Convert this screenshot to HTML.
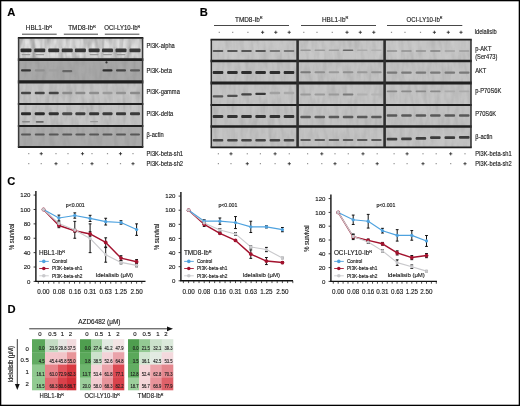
<!DOCTYPE html>
<html><head><meta charset="utf-8"><style>
html,body{margin:0;padding:0;background:#fff;}
body{width:520px;height:406px;overflow:hidden;}
svg{display:block;font-family:"Liberation Sans", sans-serif;will-change:transform;filter:blur(0.28px);}
text{stroke:#1a1a1a;stroke-width:0.14px;}
</style></head><body>
<svg width="520" height="406" viewBox="0 0 520 406">
<defs><filter id="bl" x="-20%" y="-100%" width="140%" height="300%"><feGaussianBlur stdDeviation="0.45"/></filter>
<filter id="bl2" x="-30%" y="-30%" width="160%" height="160%"><feGaussianBlur stdDeviation="1.2"/></filter>
<filter id="nzd" x="0" y="0" width="100%" height="100%" color-interpolation-filters="sRGB"><feTurbulence type="fractalNoise" baseFrequency="0.22 0.06" numOctaves="2" seed="7" result="t"/><feColorMatrix in="t" type="matrix" values="0 0 0 0 0  0 0 0 0 0  0 0 0 0 0  1.1 0 0 0 -0.45" result="a"/><feComposite in="a" in2="SourceGraphic" operator="in"/></filter>
<filter id="nzl" x="0" y="0" width="100%" height="100%" color-interpolation-filters="sRGB"><feTurbulence type="fractalNoise" baseFrequency="0.2 0.05" numOctaves="2" seed="19" result="t"/><feColorMatrix in="t" type="matrix" values="0 0 0 0 1  0 0 0 0 1  0 0 0 0 1  1.1 0 0 0 -0.45" result="a"/><feComposite in="a" in2="SourceGraphic" operator="in"/></filter>
</defs>
<rect x="0.6" y="0.6" width="518.8" height="404.8" fill="#fff" stroke="#000" stroke-width="1.4" />
<text x="7.3" y="15.6" font-size="11.2" text-anchor="start" font-weight="bold" fill="#000" >A</text>
<text x="199.8" y="15.8" font-size="11.2" text-anchor="start" font-weight="bold" fill="#000" >B</text>
<text x="7.2" y="185.0" font-size="11.2" text-anchor="start" font-weight="bold" fill="#000" >C</text>
<text x="7.6" y="313.3" font-size="11.2" text-anchor="start" font-weight="bold" fill="#000" >D</text>
<text x="25.8" y="30.3" font-size="6.4" fill="#1a1a1a">HBL1-Ib<tspan font-size="3.97" dy="-2.56">R</tspan></text>
<text x="68.2" y="30.3" font-size="6.4" fill="#1a1a1a">TMD8-Ib<tspan font-size="3.97" dy="-2.56">R</tspan></text>
<text x="104.3" y="30.3" font-size="6.4" fill="#1a1a1a" transform="translate(104.3,0) scale(0.94,1) translate(-104.3,0)">OCI-LY10-Ib<tspan font-size="3.97" dy="-2.56">R</tspan></text>
<line x1="22" y1="34.2" x2="56.7" y2="34.2" stroke="#333" stroke-width="0.9" />
<line x1="63.8" y1="34.2" x2="98" y2="34.2" stroke="#333" stroke-width="0.9" />
<line x1="104.8" y1="34.2" x2="139.4" y2="34.2" stroke="#333" stroke-width="0.9" />
<rect x="18.6" y="37.9" width="124.0" height="21.700000000000003" fill="#c3c3c3" stroke="none" stroke-width="0" />
<rect x="21.20" y="39.5" width="9.6" height="17.5" fill="#e2e2e2" opacity="0.8" filter="url(#bl2)"/>
<rect x="34.95" y="39.5" width="9.6" height="17.5" fill="#e2e2e2" opacity="0.8" filter="url(#bl2)"/>
<rect x="48.95" y="39.5" width="9.6" height="17.5" fill="#e2e2e2" opacity="0.8" filter="url(#bl2)"/>
<rect x="62.45" y="39.5" width="9.6" height="17.5" fill="#e2e2e2" opacity="0.8" filter="url(#bl2)"/>
<rect x="75.60" y="39.5" width="9.6" height="17.5" fill="#e2e2e2" opacity="0.8" filter="url(#bl2)"/>
<rect x="89.30" y="39.5" width="9.6" height="17.5" fill="#e2e2e2" opacity="0.8" filter="url(#bl2)"/>
<rect x="102.70" y="39.5" width="9.6" height="17.5" fill="#e2e2e2" opacity="0.8" filter="url(#bl2)"/>
<rect x="116.20" y="39.5" width="9.6" height="17.5" fill="#e2e2e2" opacity="0.8" filter="url(#bl2)"/>
<rect x="130.20" y="39.5" width="9.6" height="17.5" fill="#e2e2e2" opacity="0.8" filter="url(#bl2)"/>
<rect x="18.6" y="37.9" width="124.0" height="21.700000000000003" fill="#000" stroke="none" stroke-width="0" filter="url(#nzd)" opacity="0.45"/>
<rect x="18.6" y="37.9" width="124.0" height="21.700000000000003" fill="#000" stroke="none" stroke-width="0" filter="url(#nzl)" opacity="0.5"/>
<rect x="20.50" y="48.45" width="11.00" height="3.90" rx="1.00" fill="#2c2c2c" filter="url(#bl)"/>
<rect x="34.25" y="48.45" width="11.00" height="3.90" rx="1.00" fill="#303030" filter="url(#bl)"/>
<rect x="48.25" y="48.45" width="11.00" height="3.90" rx="1.00" fill="#333333" filter="url(#bl)"/>
<rect x="61.75" y="48.45" width="11.00" height="3.90" rx="1.00" fill="#383838" filter="url(#bl)"/>
<rect x="74.90" y="48.45" width="11.00" height="3.90" rx="1.00" fill="#343434" filter="url(#bl)"/>
<rect x="88.60" y="48.45" width="11.00" height="3.90" rx="1.00" fill="#343434" filter="url(#bl)"/>
<rect x="102.00" y="48.45" width="11.00" height="3.90" rx="1.00" fill="#383838" filter="url(#bl)"/>
<rect x="115.50" y="48.45" width="11.00" height="3.90" rx="1.00" fill="#353535" filter="url(#bl)"/>
<rect x="129.50" y="48.45" width="11.00" height="3.90" rx="1.00" fill="#3a3a3a" filter="url(#bl)"/>
<rect x="18.6" y="59.6" width="124.0" height="22.300000000000004" fill="#a6a6a6" stroke="none" stroke-width="0" />
<rect x="18.6" y="59.6" width="124.0" height="22.300000000000004" fill="#000" stroke="none" stroke-width="0" filter="url(#nzd)" opacity="0.12"/>
<rect x="18.6" y="59.6" width="124.0" height="22.300000000000004" fill="#000" stroke="none" stroke-width="0" filter="url(#nzl)" opacity="0.12"/>
<rect x="21.00" y="69.20" width="10.00" height="2.20" rx="1.00" fill="#363636" filter="url(#bl)"/>
<rect x="34.75" y="69.20" width="10.00" height="2.20" rx="1.00" fill="#8e8e8e" filter="url(#bl)"/>
<rect x="48.75" y="69.20" width="10.00" height="2.20" rx="1.00" fill="#a0a0a0" filter="url(#bl)"/>
<rect x="62.25" y="70.00" width="10.00" height="2.20" rx="1.00" fill="#666666" filter="url(#bl)"/>
<rect x="102.50" y="69.20" width="10.00" height="2.20" rx="1.00" fill="#2e2e2e" filter="url(#bl)"/>
<rect x="116.00" y="69.20" width="10.00" height="2.20" rx="1.00" fill="#444444" filter="url(#bl)"/>
<rect x="130.00" y="69.20" width="10.00" height="2.20" rx="1.00" fill="#5a5a5a" filter="url(#bl)"/>
<rect x="18.6" y="81.9" width="124.0" height="22.0" fill="#c2c2c2" stroke="none" stroke-width="0" />
<rect x="18.6" y="81.9" width="124.0" height="22.0" fill="#000" stroke="none" stroke-width="0" filter="url(#nzd)" opacity="0.2"/>
<rect x="18.6" y="81.9" width="124.0" height="22.0" fill="#000" stroke="none" stroke-width="0" filter="url(#nzl)" opacity="0.2"/>
<rect x="21.00" y="91.80" width="10.00" height="2.40" rx="1.00" fill="#454545" filter="url(#bl)"/>
<rect x="34.75" y="91.80" width="10.00" height="2.40" rx="1.00" fill="#454545" filter="url(#bl)"/>
<rect x="48.75" y="91.80" width="10.00" height="2.40" rx="1.00" fill="#444444" filter="url(#bl)"/>
<rect x="62.25" y="91.80" width="10.00" height="2.40" rx="1.00" fill="#8a8a8a" filter="url(#bl)"/>
<rect x="75.40" y="91.80" width="10.00" height="2.40" rx="1.00" fill="#8a8a8a" filter="url(#bl)"/>
<rect x="89.10" y="91.80" width="10.00" height="2.40" rx="1.00" fill="#8e8e8e" filter="url(#bl)"/>
<rect x="102.50" y="91.80" width="10.00" height="2.40" rx="1.00" fill="#9a9a9a" filter="url(#bl)"/>
<rect x="116.00" y="91.80" width="10.00" height="2.40" rx="1.00" fill="#929292" filter="url(#bl)"/>
<rect x="130.00" y="91.80" width="10.00" height="2.40" rx="1.00" fill="#8a8a8a" filter="url(#bl)"/>
<rect x="18.6" y="103.9" width="124.0" height="22.099999999999994" fill="#c3c3c3" stroke="none" stroke-width="0" />
<rect x="18.6" y="103.9" width="124.0" height="22.099999999999994" fill="#000" stroke="none" stroke-width="0" filter="url(#nzd)" opacity="0.2"/>
<rect x="18.6" y="103.9" width="124.0" height="22.099999999999994" fill="#000" stroke="none" stroke-width="0" filter="url(#nzl)" opacity="0.25"/>
<rect x="21.00" y="112.30" width="10.00" height="3.00" rx="1.00" fill="#2c2c2c" filter="url(#bl)"/>
<rect x="34.75" y="112.30" width="10.00" height="3.00" rx="1.00" fill="#2a2a2a" filter="url(#bl)"/>
<rect x="48.75" y="112.30" width="10.00" height="3.00" rx="1.00" fill="#303030" filter="url(#bl)"/>
<rect x="62.25" y="112.30" width="10.00" height="3.00" rx="1.00" fill="#4a4a4a" filter="url(#bl)"/>
<rect x="75.40" y="112.30" width="10.00" height="3.00" rx="1.00" fill="#3c3c3c" filter="url(#bl)"/>
<rect x="89.10" y="112.30" width="10.00" height="3.00" rx="1.00" fill="#363636" filter="url(#bl)"/>
<rect x="102.50" y="112.30" width="10.00" height="3.00" rx="1.00" fill="#3a3a3a" filter="url(#bl)"/>
<rect x="116.00" y="112.30" width="10.00" height="3.00" rx="1.00" fill="#383838" filter="url(#bl)"/>
<rect x="130.00" y="112.30" width="10.00" height="3.00" rx="1.00" fill="#3a3a3a" filter="url(#bl)"/>
<rect x="18.6" y="126.0" width="124.0" height="21.0" fill="#a9a9a9" stroke="none" stroke-width="0" />
<rect x="18.6" y="126.0" width="124.0" height="21.0" fill="#000" stroke="none" stroke-width="0" filter="url(#nzd)" opacity="0.12"/>
<rect x="18.6" y="126.0" width="124.0" height="21.0" fill="#000" stroke="none" stroke-width="0" filter="url(#nzl)" opacity="0.12"/>
<rect x="21.00" y="133.60" width="10.00" height="2.00" rx="1.00" fill="#585858" filter="url(#bl)"/>
<rect x="34.75" y="133.60" width="10.00" height="2.00" rx="1.00" fill="#585858" filter="url(#bl)"/>
<rect x="48.75" y="133.60" width="10.00" height="2.00" rx="1.00" fill="#585858" filter="url(#bl)"/>
<rect x="62.25" y="133.60" width="10.00" height="2.00" rx="1.00" fill="#585858" filter="url(#bl)"/>
<rect x="75.40" y="133.60" width="10.00" height="2.00" rx="1.00" fill="#585858" filter="url(#bl)"/>
<rect x="89.10" y="133.60" width="10.00" height="2.00" rx="1.00" fill="#585858" filter="url(#bl)"/>
<rect x="102.50" y="133.60" width="10.00" height="2.00" rx="1.00" fill="#585858" filter="url(#bl)"/>
<rect x="116.00" y="133.60" width="10.00" height="2.00" rx="1.00" fill="#585858" filter="url(#bl)"/>
<rect x="130.00" y="133.60" width="10.00" height="2.00" rx="1.00" fill="#585858" filter="url(#bl)"/>
<rect x="21.50" y="53.90" width="9.00" height="1.40" rx="0.70" fill="#9a9a9a" filter="url(#bl)"/>
<rect x="35.25" y="53.90" width="9.00" height="1.40" rx="0.70" fill="#9a9a9a" filter="url(#bl)"/>
<rect x="89.60" y="53.90" width="9.00" height="1.40" rx="0.70" fill="#9a9a9a" filter="url(#bl)"/>
<rect x="103.00" y="53.90" width="9.00" height="1.40" rx="0.70" fill="#9a9a9a" filter="url(#bl)"/>
<rect x="116.50" y="53.90" width="9.00" height="1.40" rx="0.70" fill="#9a9a9a" filter="url(#bl)"/>
<rect x="22.00" y="121.00" width="8.00" height="1.40" rx="0.70" fill="#8a8a8a" filter="url(#bl)"/>
<rect x="35.75" y="121.10" width="8.00" height="1.60" rx="0.80" fill="#6a6a6a" filter="url(#bl)"/>
<rect x="90.10" y="121.10" width="8.00" height="1.20" rx="0.60" fill="#9a9a9a" filter="url(#bl)"/>
<circle cx="106.5" cy="62.4" r="1.1" fill="#333" filter="url(#bl)"/>
<line x1="17.85" y1="37.9" x2="143.35" y2="37.9" stroke="#1f1f1f" stroke-width="1.8" />
<line x1="17.85" y1="59.6" x2="143.35" y2="59.6" stroke="#1f1f1f" stroke-width="2.8" />
<line x1="17.85" y1="81.9" x2="143.35" y2="81.9" stroke="#1f1f1f" stroke-width="3.2" />
<line x1="17.85" y1="103.9" x2="143.35" y2="103.9" stroke="#1f1f1f" stroke-width="2.0" />
<line x1="17.85" y1="126.0" x2="143.35" y2="126.0" stroke="#1f1f1f" stroke-width="2.2" />
<line x1="17.85" y1="147.0" x2="143.35" y2="147.0" stroke="#1f1f1f" stroke-width="1.8" />
<line x1="18.6" y1="37.9" x2="18.6" y2="147.0" stroke="#3a3a3a" stroke-width="1.5" />
<line x1="142.6" y1="37.9" x2="142.6" y2="147.0" stroke="#3a3a3a" stroke-width="1.5" />
<text x="146.5" y="48.3" font-size="6.5" text-anchor="start" font-weight="normal" fill="#1a1a1a"  transform="translate(146.5,0) scale(0.88,1) translate(-146.5,0)">PI3K-alpha</text>
<text x="146.5" y="72.6" font-size="6.5" text-anchor="start" font-weight="normal" fill="#1a1a1a"  transform="translate(146.5,0) scale(0.88,1) translate(-146.5,0)">PI3K-beta</text>
<text x="146.5" y="94.4" font-size="6.5" text-anchor="start" font-weight="normal" fill="#1a1a1a"  transform="translate(146.5,0) scale(0.88,1) translate(-146.5,0)">PI3K-gamma</text>
<text x="146.5" y="116.2" font-size="6.5" text-anchor="start" font-weight="normal" fill="#1a1a1a"  transform="translate(146.5,0) scale(0.88,1) translate(-146.5,0)">PI3K-delta</text>
<text x="146.5" y="137.4" font-size="6.5" text-anchor="start" font-weight="normal" fill="#1a1a1a"  transform="translate(146.5,0) scale(0.88,1) translate(-146.5,0)">&#946;-actin</text>
<text x="146.5" y="155.8" font-size="6.5" text-anchor="start" font-weight="normal" fill="#1a1a1a"  transform="translate(146.5,0) scale(0.88,1) translate(-146.5,0)">PI3K-beta-sh1</text>
<text x="146.5" y="165.8" font-size="6.5" text-anchor="start" font-weight="normal" fill="#1a1a1a"  transform="translate(146.5,0) scale(0.88,1) translate(-146.5,0)">PI3K-beta-sh2</text>
<line x1="28.15" y1="153.7" x2="29.35" y2="153.7" stroke="#444" stroke-width="0.7" />
<line x1="28.15" y1="163.7" x2="29.35" y2="163.7" stroke="#444" stroke-width="0.7" />
<line x1="39.65" y1="153.7" x2="42.85" y2="153.7" stroke="#222" stroke-width="0.8" />
<line x1="41.25" y1="152.1" x2="41.25" y2="155.29999999999998" stroke="#222" stroke-width="0.8" />
<line x1="40.65" y1="163.7" x2="41.85" y2="163.7" stroke="#444" stroke-width="0.7" />
<line x1="55.4" y1="153.7" x2="56.6" y2="153.7" stroke="#444" stroke-width="0.7" />
<line x1="54.4" y1="163.7" x2="57.6" y2="163.7" stroke="#222" stroke-width="0.8" />
<line x1="56" y1="162.1" x2="56" y2="165.29999999999998" stroke="#222" stroke-width="0.8" />
<line x1="67.4" y1="153.7" x2="68.6" y2="153.7" stroke="#444" stroke-width="0.7" />
<line x1="67.4" y1="163.7" x2="68.6" y2="163.7" stroke="#444" stroke-width="0.7" />
<line x1="80.9" y1="153.7" x2="84.1" y2="153.7" stroke="#222" stroke-width="0.8" />
<line x1="82.5" y1="152.1" x2="82.5" y2="155.29999999999998" stroke="#222" stroke-width="0.8" />
<line x1="81.9" y1="163.7" x2="83.1" y2="163.7" stroke="#444" stroke-width="0.7" />
<line x1="91.4" y1="153.7" x2="92.6" y2="153.7" stroke="#444" stroke-width="0.7" />
<line x1="90.4" y1="163.7" x2="93.6" y2="163.7" stroke="#222" stroke-width="0.8" />
<line x1="92" y1="162.1" x2="92" y2="165.29999999999998" stroke="#222" stroke-width="0.8" />
<line x1="106.9" y1="153.7" x2="108.1" y2="153.7" stroke="#444" stroke-width="0.7" />
<line x1="106.9" y1="163.7" x2="108.1" y2="163.7" stroke="#444" stroke-width="0.7" />
<line x1="118.9" y1="153.7" x2="122.1" y2="153.7" stroke="#222" stroke-width="0.8" />
<line x1="120.5" y1="152.1" x2="120.5" y2="155.29999999999998" stroke="#222" stroke-width="0.8" />
<line x1="119.9" y1="163.7" x2="121.1" y2="163.7" stroke="#444" stroke-width="0.7" />
<line x1="132.4" y1="153.7" x2="133.6" y2="153.7" stroke="#444" stroke-width="0.7" />
<line x1="131.4" y1="163.7" x2="134.6" y2="163.7" stroke="#222" stroke-width="0.8" />
<line x1="133" y1="162.1" x2="133" y2="165.29999999999998" stroke="#222" stroke-width="0.8" />
<text x="235" y="21.6" font-size="6.4" fill="#1a1a1a">TMD8-Ib<tspan font-size="3.97" dy="-2.56">R</tspan></text>
<text x="322" y="21.6" font-size="6.4" fill="#1a1a1a">HBL1-Ib<tspan font-size="3.97" dy="-2.56">R</tspan></text>
<text x="406.6" y="21.6" font-size="6.4" fill="#1a1a1a" transform="translate(406.6,0) scale(0.94,1) translate(-406.6,0)">OCI-LY10-Ib<tspan font-size="3.97" dy="-2.56">R</tspan></text>
<line x1="214" y1="25.5" x2="289" y2="25.5" stroke="#333" stroke-width="0.9" />
<line x1="301" y1="25.5" x2="376" y2="25.5" stroke="#333" stroke-width="0.9" />
<line x1="387" y1="25.5" x2="462.3" y2="25.5" stroke="#333" stroke-width="0.9" />
<text x="474.4" y="34.1" font-size="6.5" text-anchor="start" font-weight="normal" fill="#1a1a1a"  transform="translate(474.4,0) scale(0.88,1) translate(-474.4,0)">Idelalisib</text>
<line x1="218.70000000000002" y1="32.3" x2="219.9" y2="32.3" stroke="#444" stroke-width="0.7" />
<line x1="232.1" y1="32.3" x2="233.29999999999998" y2="32.3" stroke="#444" stroke-width="0.7" />
<line x1="247.3" y1="32.3" x2="248.5" y2="32.3" stroke="#444" stroke-width="0.7" />
<line x1="261.0" y1="32.3" x2="264.20000000000005" y2="32.3" stroke="#222" stroke-width="0.8" />
<line x1="262.6" y1="30.699999999999996" x2="262.6" y2="33.9" stroke="#222" stroke-width="0.8" />
<line x1="274.2" y1="32.3" x2="277.40000000000003" y2="32.3" stroke="#222" stroke-width="0.8" />
<line x1="275.8" y1="30.699999999999996" x2="275.8" y2="33.9" stroke="#222" stroke-width="0.8" />
<line x1="287.59999999999997" y1="32.3" x2="290.8" y2="32.3" stroke="#222" stroke-width="0.8" />
<line x1="289.2" y1="30.699999999999996" x2="289.2" y2="33.9" stroke="#222" stroke-width="0.8" />
<line x1="303.2" y1="32.3" x2="304.40000000000003" y2="32.3" stroke="#444" stroke-width="0.7" />
<line x1="316.4" y1="32.3" x2="317.6" y2="32.3" stroke="#444" stroke-width="0.7" />
<line x1="331.7" y1="32.3" x2="332.90000000000003" y2="32.3" stroke="#444" stroke-width="0.7" />
<line x1="345.4" y1="32.3" x2="348.6" y2="32.3" stroke="#222" stroke-width="0.8" />
<line x1="347" y1="30.699999999999996" x2="347" y2="33.9" stroke="#222" stroke-width="0.8" />
<line x1="358.7" y1="32.3" x2="361.90000000000003" y2="32.3" stroke="#222" stroke-width="0.8" />
<line x1="360.3" y1="30.699999999999996" x2="360.3" y2="33.9" stroke="#222" stroke-width="0.8" />
<line x1="372.2" y1="32.3" x2="375.40000000000003" y2="32.3" stroke="#222" stroke-width="0.8" />
<line x1="373.8" y1="30.699999999999996" x2="373.8" y2="33.9" stroke="#222" stroke-width="0.8" />
<line x1="390.9" y1="32.3" x2="392.1" y2="32.3" stroke="#444" stroke-width="0.7" />
<line x1="404.4" y1="32.3" x2="405.6" y2="32.3" stroke="#444" stroke-width="0.7" />
<line x1="419.9" y1="32.3" x2="421.1" y2="32.3" stroke="#444" stroke-width="0.7" />
<line x1="432.79999999999995" y1="32.3" x2="436.0" y2="32.3" stroke="#222" stroke-width="0.8" />
<line x1="434.4" y1="30.699999999999996" x2="434.4" y2="33.9" stroke="#222" stroke-width="0.8" />
<line x1="446.7" y1="32.3" x2="449.90000000000003" y2="32.3" stroke="#222" stroke-width="0.8" />
<line x1="448.3" y1="30.699999999999996" x2="448.3" y2="33.9" stroke="#222" stroke-width="0.8" />
<line x1="459.4" y1="32.3" x2="462.6" y2="32.3" stroke="#222" stroke-width="0.8" />
<line x1="461" y1="30.699999999999996" x2="461" y2="33.9" stroke="#222" stroke-width="0.8" />
<line x1="217.8" y1="153.8" x2="219.0" y2="153.8" stroke="#444" stroke-width="0.7" />
<line x1="217.8" y1="163.7" x2="219.0" y2="163.7" stroke="#444" stroke-width="0.7" />
<line x1="229.4" y1="153.8" x2="232.6" y2="153.8" stroke="#222" stroke-width="0.8" />
<line x1="231" y1="152.20000000000002" x2="231" y2="155.4" stroke="#222" stroke-width="0.8" />
<line x1="230.4" y1="163.7" x2="231.6" y2="163.7" stroke="#444" stroke-width="0.7" />
<line x1="246.70000000000002" y1="153.8" x2="247.9" y2="153.8" stroke="#444" stroke-width="0.7" />
<line x1="245.70000000000002" y1="163.7" x2="248.9" y2="163.7" stroke="#222" stroke-width="0.8" />
<line x1="247.3" y1="162.1" x2="247.3" y2="165.29999999999998" stroke="#222" stroke-width="0.8" />
<line x1="259.79999999999995" y1="153.8" x2="261.0" y2="153.8" stroke="#444" stroke-width="0.7" />
<line x1="259.79999999999995" y1="163.7" x2="261.0" y2="163.7" stroke="#444" stroke-width="0.7" />
<line x1="273.5" y1="153.8" x2="276.70000000000005" y2="153.8" stroke="#222" stroke-width="0.8" />
<line x1="275.1" y1="152.20000000000002" x2="275.1" y2="155.4" stroke="#222" stroke-width="0.8" />
<line x1="274.5" y1="163.7" x2="275.70000000000005" y2="163.7" stroke="#444" stroke-width="0.7" />
<line x1="288.7" y1="153.8" x2="289.90000000000003" y2="153.8" stroke="#444" stroke-width="0.7" />
<line x1="287.7" y1="163.7" x2="290.90000000000003" y2="163.7" stroke="#222" stroke-width="0.8" />
<line x1="289.3" y1="162.1" x2="289.3" y2="165.29999999999998" stroke="#222" stroke-width="0.8" />
<line x1="307.0" y1="153.8" x2="308.20000000000005" y2="153.8" stroke="#444" stroke-width="0.7" />
<line x1="307.0" y1="163.7" x2="308.20000000000005" y2="163.7" stroke="#444" stroke-width="0.7" />
<line x1="320.2" y1="153.8" x2="323.40000000000003" y2="153.8" stroke="#222" stroke-width="0.8" />
<line x1="321.8" y1="152.20000000000002" x2="321.8" y2="155.4" stroke="#222" stroke-width="0.8" />
<line x1="321.2" y1="163.7" x2="322.40000000000003" y2="163.7" stroke="#444" stroke-width="0.7" />
<line x1="334.4" y1="153.8" x2="335.6" y2="153.8" stroke="#444" stroke-width="0.7" />
<line x1="333.4" y1="163.7" x2="336.6" y2="163.7" stroke="#222" stroke-width="0.8" />
<line x1="335" y1="162.1" x2="335" y2="165.29999999999998" stroke="#222" stroke-width="0.8" />
<line x1="347.7" y1="153.8" x2="348.90000000000003" y2="153.8" stroke="#444" stroke-width="0.7" />
<line x1="347.7" y1="163.7" x2="348.90000000000003" y2="163.7" stroke="#444" stroke-width="0.7" />
<line x1="361.4" y1="153.8" x2="364.6" y2="153.8" stroke="#222" stroke-width="0.8" />
<line x1="363" y1="152.20000000000002" x2="363" y2="155.4" stroke="#222" stroke-width="0.8" />
<line x1="362.4" y1="163.7" x2="363.6" y2="163.7" stroke="#444" stroke-width="0.7" />
<line x1="376.59999999999997" y1="153.8" x2="377.8" y2="153.8" stroke="#444" stroke-width="0.7" />
<line x1="375.59999999999997" y1="163.7" x2="378.8" y2="163.7" stroke="#222" stroke-width="0.8" />
<line x1="377.2" y1="162.1" x2="377.2" y2="165.29999999999998" stroke="#222" stroke-width="0.8" />
<line x1="393.5" y1="153.8" x2="394.70000000000005" y2="153.8" stroke="#444" stroke-width="0.7" />
<line x1="393.5" y1="163.7" x2="394.70000000000005" y2="163.7" stroke="#444" stroke-width="0.7" />
<line x1="405.5" y1="153.8" x2="408.70000000000005" y2="153.8" stroke="#222" stroke-width="0.8" />
<line x1="407.1" y1="152.20000000000002" x2="407.1" y2="155.4" stroke="#222" stroke-width="0.8" />
<line x1="406.5" y1="163.7" x2="407.70000000000005" y2="163.7" stroke="#444" stroke-width="0.7" />
<line x1="422.4" y1="153.8" x2="423.6" y2="153.8" stroke="#444" stroke-width="0.7" />
<line x1="421.4" y1="163.7" x2="424.6" y2="163.7" stroke="#222" stroke-width="0.8" />
<line x1="423" y1="162.1" x2="423" y2="165.29999999999998" stroke="#222" stroke-width="0.8" />
<line x1="435.59999999999997" y1="153.8" x2="436.8" y2="153.8" stroke="#444" stroke-width="0.7" />
<line x1="435.59999999999997" y1="163.7" x2="436.8" y2="163.7" stroke="#444" stroke-width="0.7" />
<line x1="449.09999999999997" y1="153.8" x2="452.3" y2="153.8" stroke="#222" stroke-width="0.8" />
<line x1="450.7" y1="152.20000000000002" x2="450.7" y2="155.4" stroke="#222" stroke-width="0.8" />
<line x1="450.09999999999997" y1="163.7" x2="451.3" y2="163.7" stroke="#444" stroke-width="0.7" />
<line x1="464.4" y1="153.8" x2="465.6" y2="153.8" stroke="#444" stroke-width="0.7" />
<line x1="463.4" y1="163.7" x2="466.6" y2="163.7" stroke="#222" stroke-width="0.8" />
<line x1="465" y1="162.1" x2="465" y2="165.29999999999998" stroke="#222" stroke-width="0.8" />
<rect x="211.3" y="39.6" width="259.7" height="21.4" fill="#c5c5c5" stroke="none" stroke-width="0" />
<rect x="211.3" y="39.6" width="259.7" height="21.4" fill="#000" stroke="none" stroke-width="0" filter="url(#nzd)" opacity="0.15"/>
<rect x="211.3" y="39.6" width="259.7" height="21.4" fill="#000" stroke="none" stroke-width="0" filter="url(#nzl)" opacity="0.2"/>
<rect x="212.70" y="50.00" width="10.60" height="2.00" rx="1.00" fill="#555" filter="url(#bl)"/>
<rect x="227.10" y="50.00" width="10.60" height="2.00" rx="1.00" fill="#555" filter="url(#bl)"/>
<rect x="241.20" y="50.00" width="10.60" height="2.00" rx="1.00" fill="#555" filter="url(#bl)"/>
<rect x="255.30" y="50.00" width="10.60" height="2.00" rx="1.00" fill="#555" filter="url(#bl)"/>
<rect x="269.60" y="50.00" width="10.60" height="2.00" rx="1.00" fill="#777" filter="url(#bl)"/>
<rect x="283.70" y="50.00" width="10.60" height="2.00" rx="1.00" fill="#777" filter="url(#bl)"/>
<rect x="300.30" y="49.50" width="10.60" height="1.60" rx="0.80" fill="#969696" filter="url(#bl)"/>
<rect x="314.46" y="49.50" width="10.60" height="1.60" rx="0.80" fill="#9a9a9a" filter="url(#bl)"/>
<rect x="328.62" y="49.50" width="10.60" height="1.60" rx="0.80" fill="#9a9a9a" filter="url(#bl)"/>
<rect x="342.78" y="49.50" width="10.60" height="1.60" rx="0.80" fill="#666" filter="url(#bl)"/>
<rect x="356.94" y="49.50" width="10.60" height="1.60" rx="0.80" fill="#aaa" filter="url(#bl)"/>
<rect x="371.10" y="49.50" width="10.60" height="1.60" rx="0.80" fill="#b0b0b0" filter="url(#bl)"/>
<rect x="386.70" y="50.20" width="10.60" height="1.60" rx="0.80" fill="#8e8e8e" filter="url(#bl)"/>
<rect x="401.15" y="50.20" width="10.60" height="1.60" rx="0.80" fill="#909090" filter="url(#bl)"/>
<rect x="415.60" y="50.20" width="10.60" height="1.60" rx="0.80" fill="#909090" filter="url(#bl)"/>
<rect x="430.05" y="50.20" width="10.60" height="1.60" rx="0.80" fill="#808080" filter="url(#bl)"/>
<rect x="444.50" y="50.20" width="10.60" height="1.60" rx="0.80" fill="#a0a0a0" filter="url(#bl)"/>
<rect x="458.95" y="50.20" width="10.60" height="1.60" rx="0.80" fill="#9c9c9c" filter="url(#bl)"/>
<rect x="211.3" y="61.0" width="259.7" height="22.0" fill="#c1c1c1" stroke="none" stroke-width="0" />
<rect x="211.3" y="61.0" width="259.7" height="22.0" fill="#000" stroke="none" stroke-width="0" filter="url(#nzd)" opacity="0.15"/>
<rect x="211.3" y="61.0" width="259.7" height="22.0" fill="#000" stroke="none" stroke-width="0" filter="url(#nzl)" opacity="0.2"/>
<rect x="212.70" y="71.10" width="10.60" height="3.00" rx="1.00" fill="#2e2e2e" filter="url(#bl)"/>
<rect x="227.10" y="71.10" width="10.60" height="3.00" rx="1.00" fill="#2e2e2e" filter="url(#bl)"/>
<rect x="241.20" y="71.10" width="10.60" height="3.00" rx="1.00" fill="#2e2e2e" filter="url(#bl)"/>
<rect x="255.30" y="71.10" width="10.60" height="3.00" rx="1.00" fill="#2e2e2e" filter="url(#bl)"/>
<rect x="269.60" y="71.10" width="10.60" height="3.00" rx="1.00" fill="#2e2e2e" filter="url(#bl)"/>
<rect x="283.70" y="71.10" width="10.60" height="3.00" rx="1.00" fill="#2e2e2e" filter="url(#bl)"/>
<rect x="300.30" y="71.30" width="10.60" height="2.00" rx="1.00" fill="#7a7a7a" filter="url(#bl)"/>
<rect x="314.46" y="71.30" width="10.60" height="2.00" rx="1.00" fill="#909090" filter="url(#bl)"/>
<rect x="328.62" y="71.30" width="10.60" height="2.00" rx="1.00" fill="#9a9a9a" filter="url(#bl)"/>
<rect x="342.78" y="71.30" width="10.60" height="2.00" rx="1.00" fill="#909090" filter="url(#bl)"/>
<rect x="356.94" y="71.30" width="10.60" height="2.00" rx="1.00" fill="#999" filter="url(#bl)"/>
<rect x="371.10" y="71.30" width="10.60" height="2.00" rx="1.00" fill="#929292" filter="url(#bl)"/>
<rect x="386.70" y="71.40" width="10.60" height="2.40" rx="1.00" fill="#7a7a7a" filter="url(#bl)"/>
<rect x="401.15" y="71.40" width="10.60" height="2.40" rx="1.00" fill="#7a7a7a" filter="url(#bl)"/>
<rect x="415.60" y="71.40" width="10.60" height="2.40" rx="1.00" fill="#7a7a7a" filter="url(#bl)"/>
<rect x="430.05" y="71.40" width="10.60" height="2.40" rx="1.00" fill="#7a7a7a" filter="url(#bl)"/>
<rect x="444.50" y="71.40" width="10.60" height="2.40" rx="1.00" fill="#7a7a7a" filter="url(#bl)"/>
<rect x="458.95" y="71.40" width="10.60" height="2.40" rx="1.00" fill="#7a7a7a" filter="url(#bl)"/>
<rect x="211.3" y="83.0" width="259.7" height="22.0" fill="#c2c2c2" stroke="none" stroke-width="0" />
<rect x="211.3" y="83.0" width="259.7" height="22.0" fill="#000" stroke="none" stroke-width="0" filter="url(#nzd)" opacity="0.15"/>
<rect x="211.3" y="83.0" width="259.7" height="22.0" fill="#000" stroke="none" stroke-width="0" filter="url(#nzl)" opacity="0.2"/>
<rect x="212.70" y="95.15" width="10.60" height="2.30" rx="1.00" fill="#555" filter="url(#bl)"/>
<rect x="227.10" y="94.65" width="10.60" height="2.30" rx="1.00" fill="#505050" filter="url(#bl)"/>
<rect x="241.20" y="93.25" width="10.60" height="2.30" rx="1.00" fill="#454545" filter="url(#bl)"/>
<rect x="255.30" y="92.65" width="10.60" height="2.30" rx="1.00" fill="#383838" filter="url(#bl)"/>
<rect x="269.60" y="91.85" width="10.60" height="2.30" rx="1.00" fill="#a0a0a0" filter="url(#bl)"/>
<rect x="283.70" y="91.85" width="10.60" height="2.30" rx="1.00" fill="#a8a8a8" filter="url(#bl)"/>
<rect x="300.30" y="93.60" width="10.60" height="1.80" rx="0.90" fill="#9a9a9a" filter="url(#bl)"/>
<rect x="314.46" y="93.60" width="10.60" height="1.80" rx="0.90" fill="#9a9a9a" filter="url(#bl)"/>
<rect x="328.62" y="93.60" width="10.60" height="1.80" rx="0.90" fill="#9a9a9a" filter="url(#bl)"/>
<rect x="342.78" y="93.60" width="10.60" height="1.80" rx="0.90" fill="#7a7a7a" filter="url(#bl)"/>
<rect x="356.94" y="93.60" width="10.60" height="1.80" rx="0.90" fill="#b0b0b0" filter="url(#bl)"/>
<rect x="371.10" y="93.60" width="10.60" height="1.80" rx="0.90" fill="#b4b4b4" filter="url(#bl)"/>
<rect x="386.70" y="90.40" width="10.60" height="1.80" rx="0.90" fill="#8a8a8a" filter="url(#bl)"/>
<rect x="401.15" y="90.40" width="10.60" height="1.80" rx="0.90" fill="#8a8a8a" filter="url(#bl)"/>
<rect x="415.60" y="90.40" width="10.60" height="1.80" rx="0.90" fill="#8a8a8a" filter="url(#bl)"/>
<rect x="430.05" y="90.40" width="10.60" height="1.80" rx="0.90" fill="#8a8a8a" filter="url(#bl)"/>
<rect x="444.50" y="90.40" width="10.60" height="1.80" rx="0.90" fill="#aaa" filter="url(#bl)"/>
<rect x="458.95" y="90.40" width="10.60" height="1.80" rx="0.90" fill="#aaa" filter="url(#bl)"/>
<rect x="211.3" y="105.0" width="259.7" height="21.5" fill="#c0c0c0" stroke="none" stroke-width="0" />
<rect x="211.3" y="105.0" width="259.7" height="21.5" fill="#000" stroke="none" stroke-width="0" filter="url(#nzd)" opacity="0.15"/>
<rect x="211.3" y="105.0" width="259.7" height="21.5" fill="#000" stroke="none" stroke-width="0" filter="url(#nzl)" opacity="0.2"/>
<rect x="212.70" y="115.10" width="10.60" height="3.00" rx="1.00" fill="#333" filter="url(#bl)"/>
<rect x="227.10" y="115.10" width="10.60" height="3.00" rx="1.00" fill="#333" filter="url(#bl)"/>
<rect x="241.20" y="115.10" width="10.60" height="3.00" rx="1.00" fill="#333" filter="url(#bl)"/>
<rect x="255.30" y="115.10" width="10.60" height="3.00" rx="1.00" fill="#333" filter="url(#bl)"/>
<rect x="269.60" y="115.10" width="10.60" height="3.00" rx="1.00" fill="#333" filter="url(#bl)"/>
<rect x="283.70" y="115.10" width="10.60" height="3.00" rx="1.00" fill="#333" filter="url(#bl)"/>
<rect x="300.30" y="115.80" width="10.60" height="2.40" rx="1.00" fill="#5a5a5a" filter="url(#bl)"/>
<rect x="314.46" y="115.80" width="10.60" height="2.40" rx="1.00" fill="#5a5a5a" filter="url(#bl)"/>
<rect x="328.62" y="115.80" width="10.60" height="2.40" rx="1.00" fill="#5a5a5a" filter="url(#bl)"/>
<rect x="342.78" y="115.80" width="10.60" height="2.40" rx="1.00" fill="#5a5a5a" filter="url(#bl)"/>
<rect x="356.94" y="115.80" width="10.60" height="2.40" rx="1.00" fill="#5a5a5a" filter="url(#bl)"/>
<rect x="371.10" y="115.80" width="10.60" height="2.40" rx="1.00" fill="#5a5a5a" filter="url(#bl)"/>
<rect x="386.70" y="114.35" width="10.60" height="2.30" rx="1.00" fill="#585858" filter="url(#bl)"/>
<rect x="401.15" y="114.35" width="10.60" height="2.30" rx="1.00" fill="#585858" filter="url(#bl)"/>
<rect x="415.60" y="114.35" width="10.60" height="2.30" rx="1.00" fill="#585858" filter="url(#bl)"/>
<rect x="430.05" y="114.35" width="10.60" height="2.30" rx="1.00" fill="#585858" filter="url(#bl)"/>
<rect x="444.50" y="114.35" width="10.60" height="2.30" rx="1.00" fill="#585858" filter="url(#bl)"/>
<rect x="458.95" y="114.35" width="10.60" height="2.30" rx="1.00" fill="#585858" filter="url(#bl)"/>
<rect x="211.3" y="126.5" width="259.7" height="20.900000000000006" fill="#c1c1c1" stroke="none" stroke-width="0" />
<rect x="211.3" y="126.5" width="259.7" height="20.900000000000006" fill="#000" stroke="none" stroke-width="0" filter="url(#nzd)" opacity="0.15"/>
<rect x="211.3" y="126.5" width="259.7" height="20.900000000000006" fill="#000" stroke="none" stroke-width="0" filter="url(#nzl)" opacity="0.2"/>
<rect x="212.70" y="139.00" width="10.60" height="2.60" rx="1.00" fill="#454545" filter="url(#bl)"/>
<rect x="227.10" y="139.00" width="10.60" height="2.60" rx="1.00" fill="#454545" filter="url(#bl)"/>
<rect x="241.20" y="139.00" width="10.60" height="2.60" rx="1.00" fill="#454545" filter="url(#bl)"/>
<rect x="255.30" y="139.00" width="10.60" height="2.60" rx="1.00" fill="#454545" filter="url(#bl)"/>
<rect x="269.60" y="139.00" width="10.60" height="2.60" rx="1.00" fill="#454545" filter="url(#bl)"/>
<rect x="283.70" y="139.00" width="10.60" height="2.60" rx="1.00" fill="#454545" filter="url(#bl)"/>
<rect x="300.30" y="138.90" width="10.60" height="2.20" rx="1.00" fill="#5a5a5a" filter="url(#bl)"/>
<rect x="314.46" y="138.90" width="10.60" height="2.20" rx="1.00" fill="#5a5a5a" filter="url(#bl)"/>
<rect x="328.62" y="138.90" width="10.60" height="2.20" rx="1.00" fill="#5a5a5a" filter="url(#bl)"/>
<rect x="342.78" y="138.90" width="10.60" height="2.20" rx="1.00" fill="#5a5a5a" filter="url(#bl)"/>
<rect x="356.94" y="138.90" width="10.60" height="2.20" rx="1.00" fill="#5a5a5a" filter="url(#bl)"/>
<rect x="371.10" y="138.90" width="10.60" height="2.20" rx="1.00" fill="#5a5a5a" filter="url(#bl)"/>
<rect x="386.70" y="137.80" width="10.60" height="2.80" rx="1.00" fill="#3c3c3c" filter="url(#bl)"/>
<rect x="401.15" y="137.40" width="10.60" height="2.80" rx="1.00" fill="#3c3c3c" filter="url(#bl)"/>
<rect x="415.60" y="137.00" width="10.60" height="2.80" rx="1.00" fill="#3c3c3c" filter="url(#bl)"/>
<rect x="430.05" y="136.20" width="10.60" height="2.80" rx="1.00" fill="#3a3a3a" filter="url(#bl)"/>
<rect x="444.50" y="136.20" width="10.60" height="2.80" rx="1.00" fill="#3a3a3a" filter="url(#bl)"/>
<rect x="458.95" y="136.00" width="10.60" height="2.80" rx="1.00" fill="#3a3a3a" filter="url(#bl)"/>
<line x1="210.55" y1="39.6" x2="471.75" y2="39.6" stroke="#1f1f1f" stroke-width="1.8" />
<line x1="210.55" y1="61.0" x2="471.75" y2="61.0" stroke="#1f1f1f" stroke-width="2.6" />
<line x1="210.55" y1="83.0" x2="471.75" y2="83.0" stroke="#1f1f1f" stroke-width="3.0" />
<line x1="210.55" y1="105.0" x2="471.75" y2="105.0" stroke="#1f1f1f" stroke-width="2.0" />
<line x1="210.55" y1="126.5" x2="471.75" y2="126.5" stroke="#1f1f1f" stroke-width="2.6" />
<line x1="210.55" y1="147.4" x2="471.75" y2="147.4" stroke="#1f1f1f" stroke-width="1.8" />
<line x1="211.3" y1="39.6" x2="211.3" y2="147.4" stroke="#2e2e2e" stroke-width="1.5" />
<line x1="297.6" y1="39.6" x2="297.6" y2="147.4" stroke="#2e2e2e" stroke-width="2.6" />
<line x1="384.6" y1="39.6" x2="384.6" y2="147.4" stroke="#2e2e2e" stroke-width="2.6" />
<line x1="471.0" y1="39.6" x2="471.0" y2="147.4" stroke="#2e2e2e" stroke-width="1.5" />
<text x="475.2" y="51.2" font-size="6.5" text-anchor="start" font-weight="normal" fill="#1a1a1a"  transform="translate(475.2,0) scale(0.88,1) translate(-475.2,0)">p-AKT</text>
<text x="475.2" y="58.7" font-size="6.5" text-anchor="start" font-weight="normal" fill="#1a1a1a"  transform="translate(475.2,0) scale(0.88,1) translate(-475.2,0)">(Ser473)</text>
<text x="475.2" y="73.3" font-size="6.5" text-anchor="start" font-weight="normal" fill="#1a1a1a"  transform="translate(475.2,0) scale(0.88,1) translate(-475.2,0)">AKT</text>
<text x="475.2" y="92.6" font-size="6.5" text-anchor="start" font-weight="normal" fill="#1a1a1a"  transform="translate(475.2,0) scale(0.88,1) translate(-475.2,0)">p-P70S6K</text>
<text x="475.2" y="116.2" font-size="6.5" text-anchor="start" font-weight="normal" fill="#1a1a1a"  transform="translate(475.2,0) scale(0.88,1) translate(-475.2,0)">P70S6K</text>
<text x="475.2" y="139.1" font-size="6.5" text-anchor="start" font-weight="normal" fill="#1a1a1a"  transform="translate(475.2,0) scale(0.88,1) translate(-475.2,0)">&#946;-actin</text>
<text x="475.2" y="155.7" font-size="6.5" text-anchor="start" font-weight="normal" fill="#1a1a1a"  transform="translate(475.2,0) scale(0.88,1) translate(-475.2,0)">PI3K-beta-sh1</text>
<text x="475.2" y="165.7" font-size="6.5" text-anchor="start" font-weight="normal" fill="#1a1a1a"  transform="translate(475.2,0) scale(0.88,1) translate(-475.2,0)">PI3K-beta-sh2</text>
<line x1="35.9" y1="281.4" x2="35.9" y2="191.1" stroke="#111" stroke-width="1.4" />
<line x1="33.6" y1="281.4" x2="35.9" y2="281.4" stroke="#222" stroke-width="0.9" />
<text x="30.5" y="283.59999999999997" font-size="6.1" text-anchor="end" font-weight="normal" fill="#1a1a1a" >0</text>
<line x1="33.6" y1="267.01666666666665" x2="35.9" y2="267.01666666666665" stroke="#222" stroke-width="0.9" />
<text x="30.5" y="269.21666666666664" font-size="6.1" text-anchor="end" font-weight="normal" fill="#1a1a1a" >20</text>
<line x1="33.6" y1="252.63333333333333" x2="35.9" y2="252.63333333333333" stroke="#222" stroke-width="0.9" />
<text x="30.5" y="254.83333333333331" font-size="6.1" text-anchor="end" font-weight="normal" fill="#1a1a1a" >40</text>
<line x1="33.6" y1="238.25" x2="35.9" y2="238.25" stroke="#222" stroke-width="0.9" />
<text x="30.5" y="240.45" font-size="6.1" text-anchor="end" font-weight="normal" fill="#1a1a1a" >60</text>
<line x1="33.6" y1="223.86666666666667" x2="35.9" y2="223.86666666666667" stroke="#222" stroke-width="0.9" />
<text x="30.5" y="226.06666666666666" font-size="6.1" text-anchor="end" font-weight="normal" fill="#1a1a1a" >80</text>
<line x1="33.6" y1="209.48333333333332" x2="35.9" y2="209.48333333333332" stroke="#222" stroke-width="0.9" />
<text x="30.5" y="211.6833333333333" font-size="6.1" text-anchor="end" font-weight="normal" fill="#1a1a1a" >100</text>
<line x1="33.6" y1="195.1" x2="35.9" y2="195.1" stroke="#222" stroke-width="0.9" />
<text x="30.5" y="197.29999999999998" font-size="6.1" text-anchor="end" font-weight="normal" fill="#1a1a1a" >120</text>
<line x1="35.199999999999996" y1="281.4" x2="145.5" y2="281.4" stroke="#111" stroke-width="1.4" />
<line x1="38.327777777777776" y1="281.4" x2="38.327777777777776" y2="283.7" stroke="#222" stroke-width="0.8" />
<line x1="43.5" y1="281.4" x2="43.5" y2="283.7" stroke="#222" stroke-width="0.8" />
<line x1="48.672222222222224" y1="281.4" x2="48.672222222222224" y2="283.7" stroke="#222" stroke-width="0.8" />
<line x1="53.84444444444445" y1="281.4" x2="53.84444444444445" y2="283.7" stroke="#222" stroke-width="0.8" />
<line x1="59.01666666666667" y1="281.4" x2="59.01666666666667" y2="283.7" stroke="#222" stroke-width="0.8" />
<line x1="64.1888888888889" y1="281.4" x2="64.1888888888889" y2="283.7" stroke="#222" stroke-width="0.8" />
<line x1="69.36111111111111" y1="281.4" x2="69.36111111111111" y2="283.7" stroke="#222" stroke-width="0.8" />
<line x1="74.53333333333333" y1="281.4" x2="74.53333333333333" y2="283.7" stroke="#222" stroke-width="0.8" />
<line x1="79.70555555555555" y1="281.4" x2="79.70555555555555" y2="283.7" stroke="#222" stroke-width="0.8" />
<line x1="84.87777777777777" y1="281.4" x2="84.87777777777777" y2="283.7" stroke="#222" stroke-width="0.8" />
<line x1="90.04999999999998" y1="281.4" x2="90.04999999999998" y2="283.7" stroke="#222" stroke-width="0.8" />
<line x1="95.2222222222222" y1="281.4" x2="95.2222222222222" y2="283.7" stroke="#222" stroke-width="0.8" />
<line x1="100.39444444444442" y1="281.4" x2="100.39444444444442" y2="283.7" stroke="#222" stroke-width="0.8" />
<line x1="105.56666666666663" y1="281.4" x2="105.56666666666663" y2="283.7" stroke="#222" stroke-width="0.8" />
<line x1="110.73888888888885" y1="281.4" x2="110.73888888888885" y2="283.7" stroke="#222" stroke-width="0.8" />
<line x1="115.91111111111107" y1="281.4" x2="115.91111111111107" y2="283.7" stroke="#222" stroke-width="0.8" />
<line x1="121.08333333333329" y1="281.4" x2="121.08333333333329" y2="283.7" stroke="#222" stroke-width="0.8" />
<line x1="126.2555555555555" y1="281.4" x2="126.2555555555555" y2="283.7" stroke="#222" stroke-width="0.8" />
<line x1="131.42777777777772" y1="281.4" x2="131.42777777777772" y2="283.7" stroke="#222" stroke-width="0.8" />
<line x1="136.59999999999994" y1="281.4" x2="136.59999999999994" y2="283.7" stroke="#222" stroke-width="0.8" />
<line x1="141.77222222222215" y1="281.4" x2="141.77222222222215" y2="283.7" stroke="#222" stroke-width="0.8" />
<text x="43.5" y="293.7" font-size="6.3" text-anchor="middle" font-weight="normal" fill="#1a1a1a" >0.00</text>
<text x="58.9" y="293.7" font-size="6.3" text-anchor="middle" font-weight="normal" fill="#1a1a1a" >0.08</text>
<text x="74.8" y="293.7" font-size="6.3" text-anchor="middle" font-weight="normal" fill="#1a1a1a" >0.16</text>
<text x="90.1" y="293.7" font-size="6.3" text-anchor="middle" font-weight="normal" fill="#1a1a1a" >0.31</text>
<text x="105.7" y="293.7" font-size="6.3" text-anchor="middle" font-weight="normal" fill="#1a1a1a" >0.63</text>
<text x="121" y="293.7" font-size="6.3" text-anchor="middle" font-weight="normal" fill="#1a1a1a" >1.25</text>
<text x="136.6" y="293.7" font-size="6.3" text-anchor="middle" font-weight="normal" fill="#1a1a1a" >2.50</text>
<text x="0" y="0" font-size="7.4" text-anchor="middle" fill="#1a1a1a" transform="translate(14.299999999999997,236.75) rotate(-90) scale(0.78,1)">% survival</text>
<text x="65.8" y="206.8" font-size="5.2" text-anchor="start" font-weight="normal" fill="#1a1a1a" >p&lt;0.001</text>
<text x="95.6" y="277.2" font-size="6.0" text-anchor="start" font-weight="normal" fill="#1a1a1a" >Idelalisib (&#956;M)</text>
<text x="38.9" y="255.2" font-size="6.4" fill="#1a1a1a">HBL1-Ib<tspan font-size="3.97" dy="-2.56">R</tspan></text>
<line x1="39.199999999999996" y1="261.4" x2="48.8" y2="261.4" stroke="#4ea2df" stroke-width="0.9" />
<circle cx="43.8" cy="261.4" r="1.8" fill="#4ea2df"/>
<text x="51.9" y="263.2" font-size="5.2" text-anchor="start" font-weight="normal" fill="#1a1a1a"  transform="translate(51.9,0) scale(0.92,1) translate(-51.9,0)">Control</text>
<line x1="39.199999999999996" y1="268.5" x2="48.8" y2="268.5" stroke="#a3122e" stroke-width="0.9" />
<circle cx="43.8" cy="268.5" r="1.8" fill="#a3122e"/>
<text x="51.9" y="270.3" font-size="5.2" text-anchor="start" font-weight="normal" fill="#1a1a1a"  transform="translate(51.9,0) scale(0.92,1) translate(-51.9,0)">PI3K-beta-sh1</text>
<line x1="39.199999999999996" y1="275.8" x2="48.8" y2="275.8" stroke="#c9c9cc" stroke-width="0.9" />
<circle cx="43.8" cy="275.8" r="1.8" fill="#c9c9cc"/>
<text x="51.9" y="277.6" font-size="5.2" text-anchor="start" font-weight="normal" fill="#1a1a1a"  transform="translate(51.9,0) scale(0.92,1) translate(-51.9,0)">PI3K-beta-sh2</text>
<polyline points="43.50,209.48 58.90,225.52 74.80,230.70 90.10,233.94 105.70,242.42 121.00,258.10 136.60,261.69" fill="none" stroke="#a3122e" stroke-width="1.45" stroke-linejoin="round"/>
<polyline points="43.50,209.48 58.90,223.51 74.80,229.98 90.10,238.47 105.70,254.72 121.00,262.41 136.60,265.36" fill="none" stroke="#c9c9cc" stroke-width="1.1" stroke-linejoin="round"/>
<polyline points="43.50,209.48 58.90,217.97 74.80,215.52 90.10,218.40 105.70,221.64 121.00,222.43 136.60,229.62" fill="none" stroke="#4ea2df" stroke-width="1.1" stroke-linejoin="round"/>
<line x1="58.9" y1="222.06875" x2="58.9" y2="224.94541666666666" stroke="#111" stroke-width="1.0" />
<line x1="57.5" y1="222.06875" x2="60.3" y2="222.06875" stroke="#111" stroke-width="1.0" />
<line x1="57.5" y1="224.94541666666666" x2="60.3" y2="224.94541666666666" stroke="#111" stroke-width="1.0" />
<line x1="74.8" y1="221.34958333333333" x2="74.8" y2="238.25" stroke="#111" stroke-width="1.0" />
<line x1="73.39999999999999" y1="221.34958333333333" x2="76.2" y2="221.34958333333333" stroke="#111" stroke-width="1.0" />
<line x1="73.39999999999999" y1="238.25" x2="76.2" y2="238.25" stroke="#111" stroke-width="1.0" />
<line x1="90.1" y1="223.86666666666667" x2="90.1" y2="252.63333333333333" stroke="#111" stroke-width="1.0" />
<line x1="88.69999999999999" y1="223.86666666666667" x2="91.5" y2="223.86666666666667" stroke="#111" stroke-width="1.0" />
<line x1="88.69999999999999" y1="252.63333333333333" x2="91.5" y2="252.63333333333333" stroke="#111" stroke-width="1.0" />
<line x1="105.7" y1="247.59916666666666" x2="105.7" y2="262.19825" stroke="#111" stroke-width="1.0" />
<line x1="104.3" y1="247.59916666666666" x2="107.10000000000001" y2="247.59916666666666" stroke="#111" stroke-width="1.0" />
<line x1="104.3" y1="262.19825" x2="107.10000000000001" y2="262.19825" stroke="#111" stroke-width="1.0" />
<line x1="121" y1="260.97566666666665" x2="121" y2="263.8523333333333" stroke="#111" stroke-width="1.0" />
<line x1="119.6" y1="260.97566666666665" x2="122.4" y2="260.97566666666665" stroke="#111" stroke-width="1.0" />
<line x1="119.6" y1="263.8523333333333" x2="122.4" y2="263.8523333333333" stroke="#111" stroke-width="1.0" />
<line x1="136.6" y1="263.92425" x2="136.6" y2="266.80091666666664" stroke="#111" stroke-width="1.0" />
<line x1="135.2" y1="263.92425" x2="138.0" y2="263.92425" stroke="#111" stroke-width="1.0" />
<line x1="135.2" y1="266.80091666666664" x2="138.0" y2="266.80091666666664" stroke="#111" stroke-width="1.0" />
<line x1="58.9" y1="223.36325" x2="58.9" y2="227.67825" stroke="#111" stroke-width="1.0" />
<line x1="57.5" y1="223.36325" x2="60.3" y2="223.36325" stroke="#111" stroke-width="1.0" />
<line x1="57.5" y1="227.67825" x2="60.3" y2="227.67825" stroke="#111" stroke-width="1.0" />
<line x1="74.8" y1="229.26041666666666" x2="74.8" y2="232.13708333333332" stroke="#111" stroke-width="1.0" />
<line x1="73.39999999999999" y1="229.26041666666666" x2="76.2" y2="229.26041666666666" stroke="#111" stroke-width="1.0" />
<line x1="73.39999999999999" y1="232.13708333333332" x2="76.2" y2="232.13708333333332" stroke="#111" stroke-width="1.0" />
<line x1="90.1" y1="231.77749999999997" x2="90.1" y2="236.09249999999997" stroke="#111" stroke-width="1.0" />
<line x1="88.69999999999999" y1="231.77749999999997" x2="91.5" y2="231.77749999999997" stroke="#111" stroke-width="1.0" />
<line x1="88.69999999999999" y1="236.09249999999997" x2="91.5" y2="236.09249999999997" stroke="#111" stroke-width="1.0" />
<line x1="105.7" y1="237.81849999999997" x2="105.7" y2="247.0238333333333" stroke="#111" stroke-width="1.0" />
<line x1="104.3" y1="237.81849999999997" x2="107.10000000000001" y2="237.81849999999997" stroke="#111" stroke-width="1.0" />
<line x1="104.3" y1="247.0238333333333" x2="107.10000000000001" y2="247.0238333333333" stroke="#111" stroke-width="1.0" />
<line x1="121" y1="255.72574999999998" x2="121" y2="260.47225" stroke="#111" stroke-width="1.0" />
<line x1="119.6" y1="255.72574999999998" x2="122.4" y2="255.72574999999998" stroke="#111" stroke-width="1.0" />
<line x1="119.6" y1="260.47225" x2="122.4" y2="260.47225" stroke="#111" stroke-width="1.0" />
<line x1="136.6" y1="259.5373333333333" x2="136.6" y2="263.8523333333333" stroke="#111" stroke-width="1.0" />
<line x1="135.2" y1="259.5373333333333" x2="138.0" y2="259.5373333333333" stroke="#111" stroke-width="1.0" />
<line x1="135.2" y1="263.8523333333333" x2="138.0" y2="263.8523333333333" stroke="#111" stroke-width="1.0" />
<line x1="58.9" y1="215.09283333333332" x2="58.9" y2="220.84616666666665" stroke="#111" stroke-width="1.0" />
<line x1="57.5" y1="215.09283333333332" x2="60.3" y2="215.09283333333332" stroke="#111" stroke-width="1.0" />
<line x1="57.5" y1="220.84616666666665" x2="60.3" y2="220.84616666666665" stroke="#111" stroke-width="1.0" />
<line x1="74.8" y1="212.86341666666667" x2="74.8" y2="218.18525" stroke="#111" stroke-width="1.0" />
<line x1="73.39999999999999" y1="212.86341666666667" x2="76.2" y2="212.86341666666667" stroke="#111" stroke-width="1.0" />
<line x1="73.39999999999999" y1="218.18525" x2="76.2" y2="218.18525" stroke="#111" stroke-width="1.0" />
<line x1="90.1" y1="215.30858333333333" x2="90.1" y2="221.49341666666666" stroke="#111" stroke-width="1.0" />
<line x1="88.69999999999999" y1="215.30858333333333" x2="91.5" y2="215.30858333333333" stroke="#111" stroke-width="1.0" />
<line x1="88.69999999999999" y1="221.49341666666666" x2="91.5" y2="221.49341666666666" stroke="#111" stroke-width="1.0" />
<line x1="105.7" y1="218.25716666666665" x2="105.7" y2="225.01733333333334" stroke="#111" stroke-width="1.0" />
<line x1="104.3" y1="218.25716666666665" x2="107.10000000000001" y2="218.25716666666665" stroke="#111" stroke-width="1.0" />
<line x1="104.3" y1="225.01733333333334" x2="107.10000000000001" y2="225.01733333333334" stroke="#111" stroke-width="1.0" />
<line x1="121" y1="220.7023333333333" x2="121" y2="224.15433333333334" stroke="#111" stroke-width="1.0" />
<line x1="119.6" y1="220.7023333333333" x2="122.4" y2="220.7023333333333" stroke="#111" stroke-width="1.0" />
<line x1="119.6" y1="224.15433333333334" x2="122.4" y2="224.15433333333334" stroke="#111" stroke-width="1.0" />
<line x1="136.6" y1="223.86666666666667" x2="136.6" y2="235.37333333333333" stroke="#111" stroke-width="1.0" />
<line x1="135.2" y1="223.86666666666667" x2="138.0" y2="223.86666666666667" stroke="#111" stroke-width="1.0" />
<line x1="135.2" y1="235.37333333333333" x2="138.0" y2="235.37333333333333" stroke="#111" stroke-width="1.0" />
<circle cx="43.50" cy="209.48" r="1.65" fill="#4ea2df"/>
<circle cx="58.90" cy="217.97" r="1.65" fill="#4ea2df"/>
<circle cx="74.80" cy="215.52" r="1.65" fill="#4ea2df"/>
<circle cx="90.10" cy="218.40" r="1.65" fill="#4ea2df"/>
<circle cx="105.70" cy="221.64" r="1.65" fill="#4ea2df"/>
<circle cx="121.00" cy="222.43" r="1.65" fill="#4ea2df"/>
<circle cx="136.60" cy="229.62" r="1.65" fill="#4ea2df"/>
<circle cx="43.50" cy="209.48" r="1.9" fill="#a3122e"/>
<circle cx="58.90" cy="225.52" r="1.9" fill="#a3122e"/>
<circle cx="74.80" cy="230.70" r="1.9" fill="#a3122e"/>
<circle cx="90.10" cy="233.94" r="1.9" fill="#a3122e"/>
<circle cx="105.70" cy="242.42" r="1.9" fill="#a3122e"/>
<circle cx="121.00" cy="258.10" r="1.9" fill="#a3122e"/>
<circle cx="136.60" cy="261.69" r="1.9" fill="#a3122e"/>
<circle cx="43.50" cy="209.48" r="1.65" fill="#c9c9cc"/>
<circle cx="58.90" cy="223.51" r="1.65" fill="#c9c9cc"/>
<circle cx="74.80" cy="229.98" r="1.65" fill="#c9c9cc"/>
<circle cx="90.10" cy="238.47" r="1.65" fill="#c9c9cc"/>
<circle cx="105.70" cy="254.72" r="1.65" fill="#c9c9cc"/>
<circle cx="121.00" cy="262.41" r="1.65" fill="#c9c9cc"/>
<circle cx="136.60" cy="265.36" r="1.65" fill="#c9c9cc"/>
<line x1="180.9" y1="280.8" x2="180.9" y2="192.1" stroke="#111" stroke-width="1.4" />
<line x1="178.6" y1="280.8" x2="180.9" y2="280.8" stroke="#222" stroke-width="0.9" />
<text x="175.5" y="283.0" font-size="6.1" text-anchor="end" font-weight="normal" fill="#1a1a1a" >0</text>
<line x1="178.6" y1="266.68333333333334" x2="180.9" y2="266.68333333333334" stroke="#222" stroke-width="0.9" />
<text x="175.5" y="268.8833333333333" font-size="6.1" text-anchor="end" font-weight="normal" fill="#1a1a1a" >20</text>
<line x1="178.6" y1="252.56666666666666" x2="180.9" y2="252.56666666666666" stroke="#222" stroke-width="0.9" />
<text x="175.5" y="254.76666666666665" font-size="6.1" text-anchor="end" font-weight="normal" fill="#1a1a1a" >40</text>
<line x1="178.6" y1="238.45" x2="180.9" y2="238.45" stroke="#222" stroke-width="0.9" />
<text x="175.5" y="240.64999999999998" font-size="6.1" text-anchor="end" font-weight="normal" fill="#1a1a1a" >60</text>
<line x1="178.6" y1="224.33333333333334" x2="180.9" y2="224.33333333333334" stroke="#222" stroke-width="0.9" />
<text x="175.5" y="226.53333333333333" font-size="6.1" text-anchor="end" font-weight="normal" fill="#1a1a1a" >80</text>
<line x1="178.6" y1="210.21666666666667" x2="180.9" y2="210.21666666666667" stroke="#222" stroke-width="0.9" />
<text x="175.5" y="212.41666666666666" font-size="6.1" text-anchor="end" font-weight="normal" fill="#1a1a1a" >100</text>
<line x1="178.6" y1="196.1" x2="180.9" y2="196.1" stroke="#222" stroke-width="0.9" />
<text x="175.5" y="198.29999999999998" font-size="6.1" text-anchor="end" font-weight="normal" fill="#1a1a1a" >120</text>
<line x1="180.20000000000002" y1="280.8" x2="293" y2="280.8" stroke="#111" stroke-width="1.4" />
<line x1="183.38888888888889" y1="280.8" x2="183.38888888888889" y2="283.1" stroke="#222" stroke-width="0.8" />
<line x1="188.6" y1="280.8" x2="188.6" y2="283.1" stroke="#222" stroke-width="0.8" />
<line x1="193.8111111111111" y1="280.8" x2="193.8111111111111" y2="283.1" stroke="#222" stroke-width="0.8" />
<line x1="199.0222222222222" y1="280.8" x2="199.0222222222222" y2="283.1" stroke="#222" stroke-width="0.8" />
<line x1="204.23333333333332" y1="280.8" x2="204.23333333333332" y2="283.1" stroke="#222" stroke-width="0.8" />
<line x1="209.44444444444443" y1="280.8" x2="209.44444444444443" y2="283.1" stroke="#222" stroke-width="0.8" />
<line x1="214.65555555555554" y1="280.8" x2="214.65555555555554" y2="283.1" stroke="#222" stroke-width="0.8" />
<line x1="219.86666666666665" y1="280.8" x2="219.86666666666665" y2="283.1" stroke="#222" stroke-width="0.8" />
<line x1="225.07777777777775" y1="280.8" x2="225.07777777777775" y2="283.1" stroke="#222" stroke-width="0.8" />
<line x1="230.28888888888886" y1="280.8" x2="230.28888888888886" y2="283.1" stroke="#222" stroke-width="0.8" />
<line x1="235.49999999999997" y1="280.8" x2="235.49999999999997" y2="283.1" stroke="#222" stroke-width="0.8" />
<line x1="240.71111111111108" y1="280.8" x2="240.71111111111108" y2="283.1" stroke="#222" stroke-width="0.8" />
<line x1="245.9222222222222" y1="280.8" x2="245.9222222222222" y2="283.1" stroke="#222" stroke-width="0.8" />
<line x1="251.1333333333333" y1="280.8" x2="251.1333333333333" y2="283.1" stroke="#222" stroke-width="0.8" />
<line x1="256.34444444444443" y1="280.8" x2="256.34444444444443" y2="283.1" stroke="#222" stroke-width="0.8" />
<line x1="261.55555555555554" y1="280.8" x2="261.55555555555554" y2="283.1" stroke="#222" stroke-width="0.8" />
<line x1="266.76666666666665" y1="280.8" x2="266.76666666666665" y2="283.1" stroke="#222" stroke-width="0.8" />
<line x1="271.97777777777776" y1="280.8" x2="271.97777777777776" y2="283.1" stroke="#222" stroke-width="0.8" />
<line x1="277.18888888888887" y1="280.8" x2="277.18888888888887" y2="283.1" stroke="#222" stroke-width="0.8" />
<line x1="282.4" y1="280.8" x2="282.4" y2="283.1" stroke="#222" stroke-width="0.8" />
<line x1="287.6111111111111" y1="280.8" x2="287.6111111111111" y2="283.1" stroke="#222" stroke-width="0.8" />
<line x1="292.8222222222222" y1="280.8" x2="292.8222222222222" y2="283.1" stroke="#222" stroke-width="0.8" />
<text x="188.6" y="293.7" font-size="6.3" text-anchor="middle" font-weight="normal" fill="#1a1a1a" >0.00</text>
<text x="204.2" y="293.7" font-size="6.3" text-anchor="middle" font-weight="normal" fill="#1a1a1a" >0.08</text>
<text x="219.9" y="293.7" font-size="6.3" text-anchor="middle" font-weight="normal" fill="#1a1a1a" >0.16</text>
<text x="235.5" y="293.7" font-size="6.3" text-anchor="middle" font-weight="normal" fill="#1a1a1a" >0.31</text>
<text x="250.8" y="293.7" font-size="6.3" text-anchor="middle" font-weight="normal" fill="#1a1a1a" >0.63</text>
<text x="266.4" y="293.7" font-size="6.3" text-anchor="middle" font-weight="normal" fill="#1a1a1a" >1.25</text>
<text x="282.4" y="293.7" font-size="6.3" text-anchor="middle" font-weight="normal" fill="#1a1a1a" >2.50</text>
<text x="0" y="0" font-size="7.4" text-anchor="middle" fill="#1a1a1a" transform="translate(159.3,236.95) rotate(-90) scale(0.78,1)">% survival</text>
<text x="218.4" y="206.8" font-size="5.2" text-anchor="start" font-weight="normal" fill="#1a1a1a" >p&lt;0.001</text>
<text x="242.6" y="277.2" font-size="6.0" text-anchor="start" font-weight="normal" fill="#1a1a1a" >Idelalisib (&#956;M)</text>
<text x="183.9" y="255.2" font-size="6.4" fill="#1a1a1a">TMD8-Ib<tspan font-size="3.97" dy="-2.56">R</tspan></text>
<line x1="184.20000000000002" y1="261.4" x2="193.8" y2="261.4" stroke="#4ea2df" stroke-width="0.9" />
<circle cx="188.8" cy="261.4" r="1.8" fill="#4ea2df"/>
<text x="196.9" y="263.2" font-size="5.2" text-anchor="start" font-weight="normal" fill="#1a1a1a"  transform="translate(196.9,0) scale(0.92,1) translate(-196.9,0)">Control</text>
<line x1="184.20000000000002" y1="268.5" x2="193.8" y2="268.5" stroke="#a3122e" stroke-width="0.9" />
<circle cx="188.8" cy="268.5" r="1.8" fill="#a3122e"/>
<text x="196.9" y="270.3" font-size="5.2" text-anchor="start" font-weight="normal" fill="#1a1a1a"  transform="translate(196.9,0) scale(0.92,1) translate(-196.9,0)">PI3K-beta-sh1</text>
<line x1="184.20000000000002" y1="275.8" x2="193.8" y2="275.8" stroke="#c9c9cc" stroke-width="0.9" />
<circle cx="188.8" cy="275.8" r="1.8" fill="#c9c9cc"/>
<text x="196.9" y="277.6" font-size="5.2" text-anchor="start" font-weight="normal" fill="#1a1a1a"  transform="translate(196.9,0) scale(0.92,1) translate(-196.9,0)">PI3K-beta-sh2</text>
<polyline points="188.60,210.22 204.20,224.33 219.90,233.30 235.50,240.43 250.80,254.12 266.40,261.04 282.40,262.59" fill="none" stroke="#a3122e" stroke-width="1.45" stroke-linejoin="round"/>
<polyline points="188.60,210.22 204.20,222.92 219.90,229.98 235.50,233.93 250.80,246.92 266.40,249.53 282.40,258.00" fill="none" stroke="#c9c9cc" stroke-width="1.1" stroke-linejoin="round"/>
<polyline points="188.60,210.22 204.20,221.16 219.90,221.16 235.50,222.57 250.80,226.87 266.40,226.87 282.40,229.63" fill="none" stroke="#4ea2df" stroke-width="1.1" stroke-linejoin="round"/>
<line x1="204.2" y1="221.51" x2="204.2" y2="224.33333333333334" stroke="#111" stroke-width="1.0" />
<line x1="202.79999999999998" y1="221.51" x2="205.6" y2="221.51" stroke="#111" stroke-width="1.0" />
<line x1="202.79999999999998" y1="224.33333333333334" x2="205.6" y2="224.33333333333334" stroke="#111" stroke-width="1.0" />
<line x1="219.9" y1="228.56833333333333" x2="219.9" y2="231.39166666666668" stroke="#111" stroke-width="1.0" />
<line x1="218.5" y1="228.56833333333333" x2="221.3" y2="228.56833333333333" stroke="#111" stroke-width="1.0" />
<line x1="218.5" y1="231.39166666666668" x2="221.3" y2="231.39166666666668" stroke="#111" stroke-width="1.0" />
<line x1="235.5" y1="232.52100000000002" x2="235.5" y2="235.34433333333334" stroke="#111" stroke-width="1.0" />
<line x1="234.1" y1="232.52100000000002" x2="236.9" y2="232.52100000000002" stroke="#111" stroke-width="1.0" />
<line x1="234.1" y1="235.34433333333334" x2="236.9" y2="235.34433333333334" stroke="#111" stroke-width="1.0" />
<line x1="250.8" y1="245.86125" x2="250.8" y2="247.97875" stroke="#111" stroke-width="1.0" />
<line x1="249.4" y1="245.86125" x2="252.20000000000002" y2="245.86125" stroke="#111" stroke-width="1.0" />
<line x1="249.4" y1="247.97875" x2="252.20000000000002" y2="247.97875" stroke="#111" stroke-width="1.0" />
<line x1="266.4" y1="247.41408333333334" x2="266.4" y2="251.64908333333335" stroke="#111" stroke-width="1.0" />
<line x1="265.0" y1="247.41408333333334" x2="267.79999999999995" y2="247.41408333333334" stroke="#111" stroke-width="1.0" />
<line x1="265.0" y1="251.64908333333335" x2="267.79999999999995" y2="251.64908333333335" stroke="#111" stroke-width="1.0" />
<line x1="282.4" y1="257.29575" x2="282.4" y2="258.7074166666667" stroke="#111" stroke-width="1.0" />
<line x1="281.0" y1="257.29575" x2="283.79999999999995" y2="257.29575" stroke="#111" stroke-width="1.0" />
<line x1="281.0" y1="258.7074166666667" x2="283.79999999999995" y2="258.7074166666667" stroke="#111" stroke-width="1.0" />
<line x1="204.2" y1="222.21583333333334" x2="204.2" y2="226.45083333333332" stroke="#111" stroke-width="1.0" />
<line x1="202.79999999999998" y1="222.21583333333334" x2="205.6" y2="222.21583333333334" stroke="#111" stroke-width="1.0" />
<line x1="202.79999999999998" y1="226.45083333333332" x2="205.6" y2="226.45083333333332" stroke="#111" stroke-width="1.0" />
<line x1="219.9" y1="232.59158333333335" x2="219.9" y2="234.00325" stroke="#111" stroke-width="1.0" />
<line x1="218.5" y1="232.59158333333335" x2="221.3" y2="232.59158333333335" stroke="#111" stroke-width="1.0" />
<line x1="218.5" y1="234.00325" x2="221.3" y2="234.00325" stroke="#111" stroke-width="1.0" />
<line x1="235.5" y1="239.72050000000002" x2="235.5" y2="241.13216666666668" stroke="#111" stroke-width="1.0" />
<line x1="234.1" y1="239.72050000000002" x2="236.9" y2="239.72050000000002" stroke="#111" stroke-width="1.0" />
<line x1="234.1" y1="241.13216666666668" x2="236.9" y2="241.13216666666668" stroke="#111" stroke-width="1.0" />
<line x1="250.8" y1="249.8845" x2="250.8" y2="258.35450000000003" stroke="#111" stroke-width="1.0" />
<line x1="249.4" y1="249.8845" x2="252.20000000000002" y2="249.8845" stroke="#111" stroke-width="1.0" />
<line x1="249.4" y1="258.35450000000003" x2="252.20000000000002" y2="258.35450000000003" stroke="#111" stroke-width="1.0" />
<line x1="266.4" y1="257.5075" x2="266.4" y2="264.56583333333333" stroke="#111" stroke-width="1.0" />
<line x1="265.0" y1="257.5075" x2="267.79999999999995" y2="257.5075" stroke="#111" stroke-width="1.0" />
<line x1="265.0" y1="264.56583333333333" x2="267.79999999999995" y2="264.56583333333333" stroke="#111" stroke-width="1.0" />
<line x1="282.4" y1="261.53075" x2="282.4" y2="263.64825" stroke="#111" stroke-width="1.0" />
<line x1="281.0" y1="261.53075" x2="283.79999999999995" y2="261.53075" stroke="#111" stroke-width="1.0" />
<line x1="281.0" y1="263.64825" x2="283.79999999999995" y2="263.64825" stroke="#111" stroke-width="1.0" />
<line x1="204.2" y1="219.74541666666667" x2="204.2" y2="222.56875" stroke="#111" stroke-width="1.0" />
<line x1="202.79999999999998" y1="219.74541666666667" x2="205.6" y2="219.74541666666667" stroke="#111" stroke-width="1.0" />
<line x1="202.79999999999998" y1="222.56875" x2="205.6" y2="222.56875" stroke="#111" stroke-width="1.0" />
<line x1="219.9" y1="217.98083333333335" x2="219.9" y2="224.33333333333334" stroke="#111" stroke-width="1.0" />
<line x1="218.5" y1="217.98083333333335" x2="221.3" y2="217.98083333333335" stroke="#111" stroke-width="1.0" />
<line x1="218.5" y1="224.33333333333334" x2="221.3" y2="224.33333333333334" stroke="#111" stroke-width="1.0" />
<line x1="235.5" y1="216.56916666666666" x2="235.5" y2="228.56833333333333" stroke="#111" stroke-width="1.0" />
<line x1="234.1" y1="216.56916666666666" x2="236.9" y2="216.56916666666666" stroke="#111" stroke-width="1.0" />
<line x1="234.1" y1="228.56833333333333" x2="236.9" y2="228.56833333333333" stroke="#111" stroke-width="1.0" />
<line x1="250.8" y1="221.22766666666666" x2="250.8" y2="232.52100000000002" stroke="#111" stroke-width="1.0" />
<line x1="249.4" y1="221.22766666666666" x2="252.20000000000002" y2="221.22766666666666" stroke="#111" stroke-width="1.0" />
<line x1="249.4" y1="232.52100000000002" x2="252.20000000000002" y2="232.52100000000002" stroke="#111" stroke-width="1.0" />
<line x1="266.4" y1="225.81558333333334" x2="266.4" y2="227.93308333333334" stroke="#111" stroke-width="1.0" />
<line x1="265.0" y1="225.81558333333334" x2="267.79999999999995" y2="225.81558333333334" stroke="#111" stroke-width="1.0" />
<line x1="265.0" y1="227.93308333333334" x2="267.79999999999995" y2="227.93308333333334" stroke="#111" stroke-width="1.0" />
<line x1="282.4" y1="227.50958333333335" x2="282.4" y2="231.74458333333334" stroke="#111" stroke-width="1.0" />
<line x1="281.0" y1="227.50958333333335" x2="283.79999999999995" y2="227.50958333333335" stroke="#111" stroke-width="1.0" />
<line x1="281.0" y1="231.74458333333334" x2="283.79999999999995" y2="231.74458333333334" stroke="#111" stroke-width="1.0" />
<circle cx="188.60" cy="210.22" r="1.65" fill="#4ea2df"/>
<circle cx="204.20" cy="221.16" r="1.65" fill="#4ea2df"/>
<circle cx="219.90" cy="221.16" r="1.65" fill="#4ea2df"/>
<circle cx="235.50" cy="222.57" r="1.65" fill="#4ea2df"/>
<circle cx="250.80" cy="226.87" r="1.65" fill="#4ea2df"/>
<circle cx="266.40" cy="226.87" r="1.65" fill="#4ea2df"/>
<circle cx="282.40" cy="229.63" r="1.65" fill="#4ea2df"/>
<circle cx="188.60" cy="210.22" r="1.9" fill="#a3122e"/>
<circle cx="204.20" cy="224.33" r="1.9" fill="#a3122e"/>
<circle cx="219.90" cy="233.30" r="1.9" fill="#a3122e"/>
<circle cx="235.50" cy="240.43" r="1.9" fill="#a3122e"/>
<circle cx="250.80" cy="254.12" r="1.9" fill="#a3122e"/>
<circle cx="266.40" cy="261.04" r="1.9" fill="#a3122e"/>
<circle cx="282.40" cy="262.59" r="1.9" fill="#a3122e"/>
<circle cx="188.60" cy="210.22" r="1.65" fill="#c9c9cc"/>
<circle cx="204.20" cy="222.92" r="1.65" fill="#c9c9cc"/>
<circle cx="219.90" cy="229.98" r="1.65" fill="#c9c9cc"/>
<circle cx="235.50" cy="233.93" r="1.65" fill="#c9c9cc"/>
<circle cx="250.80" cy="246.92" r="1.65" fill="#c9c9cc"/>
<circle cx="266.40" cy="249.53" r="1.65" fill="#c9c9cc"/>
<circle cx="282.40" cy="258.00" r="1.65" fill="#c9c9cc"/>
<line x1="330.9" y1="281.4" x2="330.9" y2="194.6" stroke="#111" stroke-width="1.4" />
<line x1="328.59999999999997" y1="281.4" x2="330.9" y2="281.4" stroke="#222" stroke-width="0.9" />
<text x="325.5" y="283.59999999999997" font-size="6.1" text-anchor="end" font-weight="normal" fill="#1a1a1a" >0</text>
<line x1="328.59999999999997" y1="267.59999999999997" x2="330.9" y2="267.59999999999997" stroke="#222" stroke-width="0.9" />
<text x="325.5" y="269.79999999999995" font-size="6.1" text-anchor="end" font-weight="normal" fill="#1a1a1a" >20</text>
<line x1="328.59999999999997" y1="253.79999999999998" x2="330.9" y2="253.79999999999998" stroke="#222" stroke-width="0.9" />
<text x="325.5" y="255.99999999999997" font-size="6.1" text-anchor="end" font-weight="normal" fill="#1a1a1a" >40</text>
<line x1="328.59999999999997" y1="240.0" x2="330.9" y2="240.0" stroke="#222" stroke-width="0.9" />
<text x="325.5" y="242.2" font-size="6.1" text-anchor="end" font-weight="normal" fill="#1a1a1a" >60</text>
<line x1="328.59999999999997" y1="226.2" x2="330.9" y2="226.2" stroke="#222" stroke-width="0.9" />
<text x="325.5" y="228.39999999999998" font-size="6.1" text-anchor="end" font-weight="normal" fill="#1a1a1a" >80</text>
<line x1="328.59999999999997" y1="212.39999999999998" x2="330.9" y2="212.39999999999998" stroke="#222" stroke-width="0.9" />
<text x="325.5" y="214.59999999999997" font-size="6.1" text-anchor="end" font-weight="normal" fill="#1a1a1a" >100</text>
<line x1="328.59999999999997" y1="198.6" x2="330.9" y2="198.6" stroke="#222" stroke-width="0.9" />
<text x="325.5" y="200.79999999999998" font-size="6.1" text-anchor="end" font-weight="normal" fill="#1a1a1a" >120</text>
<line x1="330.2" y1="281.4" x2="437" y2="281.4" stroke="#111" stroke-width="1.4" />
<line x1="333.2944444444444" y1="281.4" x2="333.2944444444444" y2="283.7" stroke="#222" stroke-width="0.8" />
<line x1="338.2" y1="281.4" x2="338.2" y2="283.7" stroke="#222" stroke-width="0.8" />
<line x1="343.10555555555555" y1="281.4" x2="343.10555555555555" y2="283.7" stroke="#222" stroke-width="0.8" />
<line x1="348.0111111111111" y1="281.4" x2="348.0111111111111" y2="283.7" stroke="#222" stroke-width="0.8" />
<line x1="352.9166666666667" y1="281.4" x2="352.9166666666667" y2="283.7" stroke="#222" stroke-width="0.8" />
<line x1="357.82222222222225" y1="281.4" x2="357.82222222222225" y2="283.7" stroke="#222" stroke-width="0.8" />
<line x1="362.7277777777778" y1="281.4" x2="362.7277777777778" y2="283.7" stroke="#222" stroke-width="0.8" />
<line x1="367.6333333333334" y1="281.4" x2="367.6333333333334" y2="283.7" stroke="#222" stroke-width="0.8" />
<line x1="372.53888888888895" y1="281.4" x2="372.53888888888895" y2="283.7" stroke="#222" stroke-width="0.8" />
<line x1="377.4444444444445" y1="281.4" x2="377.4444444444445" y2="283.7" stroke="#222" stroke-width="0.8" />
<line x1="382.3500000000001" y1="281.4" x2="382.3500000000001" y2="283.7" stroke="#222" stroke-width="0.8" />
<line x1="387.25555555555565" y1="281.4" x2="387.25555555555565" y2="283.7" stroke="#222" stroke-width="0.8" />
<line x1="392.1611111111112" y1="281.4" x2="392.1611111111112" y2="283.7" stroke="#222" stroke-width="0.8" />
<line x1="397.0666666666668" y1="281.4" x2="397.0666666666668" y2="283.7" stroke="#222" stroke-width="0.8" />
<line x1="401.97222222222234" y1="281.4" x2="401.97222222222234" y2="283.7" stroke="#222" stroke-width="0.8" />
<line x1="406.8777777777779" y1="281.4" x2="406.8777777777779" y2="283.7" stroke="#222" stroke-width="0.8" />
<line x1="411.7833333333335" y1="281.4" x2="411.7833333333335" y2="283.7" stroke="#222" stroke-width="0.8" />
<line x1="416.68888888888904" y1="281.4" x2="416.68888888888904" y2="283.7" stroke="#222" stroke-width="0.8" />
<line x1="421.5944444444446" y1="281.4" x2="421.5944444444446" y2="283.7" stroke="#222" stroke-width="0.8" />
<line x1="426.50000000000017" y1="281.4" x2="426.50000000000017" y2="283.7" stroke="#222" stroke-width="0.8" />
<line x1="431.40555555555574" y1="281.4" x2="431.40555555555574" y2="283.7" stroke="#222" stroke-width="0.8" />
<line x1="436.3111111111113" y1="281.4" x2="436.3111111111113" y2="283.7" stroke="#222" stroke-width="0.8" />
<text x="338.2" y="293.7" font-size="6.3" text-anchor="middle" font-weight="normal" fill="#1a1a1a" >0.00</text>
<text x="353.2" y="293.7" font-size="6.3" text-anchor="middle" font-weight="normal" fill="#1a1a1a" >0.08</text>
<text x="368.2" y="293.7" font-size="6.3" text-anchor="middle" font-weight="normal" fill="#1a1a1a" >0.16</text>
<text x="382.5" y="293.7" font-size="6.3" text-anchor="middle" font-weight="normal" fill="#1a1a1a" >0.31</text>
<text x="397.2" y="293.7" font-size="6.3" text-anchor="middle" font-weight="normal" fill="#1a1a1a" >0.63</text>
<text x="411.8" y="293.7" font-size="6.3" text-anchor="middle" font-weight="normal" fill="#1a1a1a" >1.25</text>
<text x="426.5" y="293.7" font-size="6.3" text-anchor="middle" font-weight="normal" fill="#1a1a1a" >2.50</text>
<text x="0" y="0" font-size="7.4" text-anchor="middle" fill="#1a1a1a" transform="translate(309.29999999999995,238.5) rotate(-90) scale(0.78,1)">% survival</text>
<text x="376.4" y="206.8" font-size="5.2" text-anchor="start" font-weight="normal" fill="#1a1a1a" >p&lt;0.001</text>
<text x="387.4" y="277.2" font-size="6.0" text-anchor="start" font-weight="normal" fill="#1a1a1a" >Idelalisib (&#956;M)</text>
<text x="333.9" y="255.2" font-size="6.4" fill="#1a1a1a">OCI-LY10-Ib<tspan font-size="3.97" dy="-2.56">R</tspan></text>
<line x1="334.2" y1="261.4" x2="343.79999999999995" y2="261.4" stroke="#4ea2df" stroke-width="0.9" />
<circle cx="338.79999999999995" cy="261.4" r="1.8" fill="#4ea2df"/>
<text x="346.9" y="263.2" font-size="5.2" text-anchor="start" font-weight="normal" fill="#1a1a1a"  transform="translate(346.9,0) scale(0.92,1) translate(-346.9,0)">Control</text>
<line x1="334.2" y1="268.5" x2="343.79999999999995" y2="268.5" stroke="#a3122e" stroke-width="0.9" />
<circle cx="338.79999999999995" cy="268.5" r="1.8" fill="#a3122e"/>
<text x="346.9" y="270.3" font-size="5.2" text-anchor="start" font-weight="normal" fill="#1a1a1a"  transform="translate(346.9,0) scale(0.92,1) translate(-346.9,0)">PI3K-beta-sh1</text>
<line x1="334.2" y1="275.8" x2="343.79999999999995" y2="275.8" stroke="#c9c9cc" stroke-width="0.9" />
<circle cx="338.79999999999995" cy="275.8" r="1.8" fill="#c9c9cc"/>
<text x="346.9" y="277.6" font-size="5.2" text-anchor="start" font-weight="normal" fill="#1a1a1a"  transform="translate(346.9,0) scale(0.92,1) translate(-346.9,0)">PI3K-beta-sh2</text>
<polyline points="338.20,212.40 353.20,236.83 368.20,240.41 382.50,243.79 397.20,252.90 411.80,257.59 426.50,255.59" fill="none" stroke="#a3122e" stroke-width="1.45" stroke-linejoin="round"/>
<polyline points="338.20,212.40 353.20,236.41 368.20,242.07 382.50,250.90 397.20,262.63 411.80,266.70 426.50,271.12" fill="none" stroke="#c9c9cc" stroke-width="1.1" stroke-linejoin="round"/>
<polyline points="338.20,212.40 353.20,219.78 368.20,221.23 382.50,230.69 397.20,235.38 411.80,235.38 426.50,240.97" fill="none" stroke="#4ea2df" stroke-width="1.1" stroke-linejoin="round"/>
<line x1="353.2" y1="234.34199999999998" x2="353.2" y2="238.48199999999997" stroke="#111" stroke-width="1.0" />
<line x1="351.8" y1="234.34199999999998" x2="354.59999999999997" y2="234.34199999999998" stroke="#111" stroke-width="1.0" />
<line x1="351.8" y1="238.48199999999997" x2="354.59999999999997" y2="238.48199999999997" stroke="#111" stroke-width="1.0" />
<line x1="368.2" y1="240.69" x2="368.2" y2="243.45" stroke="#111" stroke-width="1.0" />
<line x1="366.8" y1="240.69" x2="369.59999999999997" y2="240.69" stroke="#111" stroke-width="1.0" />
<line x1="366.8" y1="243.45" x2="369.59999999999997" y2="243.45" stroke="#111" stroke-width="1.0" />
<line x1="382.5" y1="249.867" x2="382.5" y2="251.93699999999998" stroke="#111" stroke-width="1.0" />
<line x1="381.1" y1="249.867" x2="383.9" y2="249.867" stroke="#111" stroke-width="1.0" />
<line x1="381.1" y1="251.93699999999998" x2="383.9" y2="251.93699999999998" stroke="#111" stroke-width="1.0" />
<line x1="397.2" y1="259.87199999999996" x2="397.2" y2="265.392" stroke="#111" stroke-width="1.0" />
<line x1="395.8" y1="259.87199999999996" x2="398.59999999999997" y2="259.87199999999996" stroke="#111" stroke-width="1.0" />
<line x1="395.8" y1="265.392" x2="398.59999999999997" y2="265.392" stroke="#111" stroke-width="1.0" />
<line x1="411.8" y1="264.97799999999995" x2="411.8" y2="268.428" stroke="#111" stroke-width="1.0" />
<line x1="410.40000000000003" y1="264.97799999999995" x2="413.2" y2="264.97799999999995" stroke="#111" stroke-width="1.0" />
<line x1="410.40000000000003" y1="268.428" x2="413.2" y2="268.428" stroke="#111" stroke-width="1.0" />
<line x1="426.5" y1="270.429" x2="426.5" y2="271.80899999999997" stroke="#111" stroke-width="1.0" />
<line x1="425.1" y1="270.429" x2="427.9" y2="270.429" stroke="#111" stroke-width="1.0" />
<line x1="425.1" y1="271.80899999999997" x2="427.9" y2="271.80899999999997" stroke="#111" stroke-width="1.0" />
<line x1="353.2" y1="234.066" x2="353.2" y2="239.58599999999998" stroke="#111" stroke-width="1.0" />
<line x1="351.8" y1="234.066" x2="354.59999999999997" y2="234.066" stroke="#111" stroke-width="1.0" />
<line x1="351.8" y1="239.58599999999998" x2="354.59999999999997" y2="239.58599999999998" stroke="#111" stroke-width="1.0" />
<line x1="368.2" y1="239.034" x2="368.2" y2="241.79399999999998" stroke="#111" stroke-width="1.0" />
<line x1="366.8" y1="239.034" x2="369.59999999999997" y2="239.034" stroke="#111" stroke-width="1.0" />
<line x1="366.8" y1="241.79399999999998" x2="369.59999999999997" y2="241.79399999999998" stroke="#111" stroke-width="1.0" />
<line x1="382.5" y1="242.415" x2="382.5" y2="245.17499999999998" stroke="#111" stroke-width="1.0" />
<line x1="381.1" y1="242.415" x2="383.9" y2="242.415" stroke="#111" stroke-width="1.0" />
<line x1="381.1" y1="245.17499999999998" x2="383.9" y2="245.17499999999998" stroke="#111" stroke-width="1.0" />
<line x1="397.2" y1="250.833" x2="397.2" y2="254.97299999999998" stroke="#111" stroke-width="1.0" />
<line x1="395.8" y1="250.833" x2="398.59999999999997" y2="250.833" stroke="#111" stroke-width="1.0" />
<line x1="395.8" y1="254.97299999999998" x2="398.59999999999997" y2="254.97299999999998" stroke="#111" stroke-width="1.0" />
<line x1="411.8" y1="255.52499999999998" x2="411.8" y2="259.66499999999996" stroke="#111" stroke-width="1.0" />
<line x1="410.40000000000003" y1="255.52499999999998" x2="413.2" y2="255.52499999999998" stroke="#111" stroke-width="1.0" />
<line x1="410.40000000000003" y1="259.66499999999996" x2="413.2" y2="259.66499999999996" stroke="#111" stroke-width="1.0" />
<line x1="426.5" y1="253.52399999999997" x2="426.5" y2="257.664" stroke="#111" stroke-width="1.0" />
<line x1="425.1" y1="253.52399999999997" x2="427.9" y2="253.52399999999997" stroke="#111" stroke-width="1.0" />
<line x1="425.1" y1="257.664" x2="427.9" y2="257.664" stroke="#111" stroke-width="1.0" />
<line x1="353.2" y1="215.091" x2="353.2" y2="224.475" stroke="#111" stroke-width="1.0" />
<line x1="351.8" y1="215.091" x2="354.59999999999997" y2="215.091" stroke="#111" stroke-width="1.0" />
<line x1="351.8" y1="224.475" x2="354.59999999999997" y2="224.475" stroke="#111" stroke-width="1.0" />
<line x1="368.2" y1="214.40099999999998" x2="368.2" y2="228.063" stroke="#111" stroke-width="1.0" />
<line x1="366.8" y1="214.40099999999998" x2="369.59999999999997" y2="214.40099999999998" stroke="#111" stroke-width="1.0" />
<line x1="366.8" y1="228.063" x2="369.59999999999997" y2="228.063" stroke="#111" stroke-width="1.0" />
<line x1="382.5" y1="228.339" x2="382.5" y2="233.031" stroke="#111" stroke-width="1.0" />
<line x1="381.1" y1="228.339" x2="383.9" y2="228.339" stroke="#111" stroke-width="1.0" />
<line x1="381.1" y1="233.031" x2="383.9" y2="233.031" stroke="#111" stroke-width="1.0" />
<line x1="397.2" y1="229.64999999999998" x2="397.2" y2="241.10399999999998" stroke="#111" stroke-width="1.0" />
<line x1="395.8" y1="229.64999999999998" x2="398.59999999999997" y2="229.64999999999998" stroke="#111" stroke-width="1.0" />
<line x1="395.8" y1="241.10399999999998" x2="398.59999999999997" y2="241.10399999999998" stroke="#111" stroke-width="1.0" />
<line x1="411.8" y1="230.547" x2="411.8" y2="240.207" stroke="#111" stroke-width="1.0" />
<line x1="410.40000000000003" y1="230.547" x2="413.2" y2="230.547" stroke="#111" stroke-width="1.0" />
<line x1="410.40000000000003" y1="240.207" x2="413.2" y2="240.207" stroke="#111" stroke-width="1.0" />
<line x1="426.5" y1="235.515" x2="426.5" y2="246.41699999999997" stroke="#111" stroke-width="1.0" />
<line x1="425.1" y1="235.515" x2="427.9" y2="235.515" stroke="#111" stroke-width="1.0" />
<line x1="425.1" y1="246.41699999999997" x2="427.9" y2="246.41699999999997" stroke="#111" stroke-width="1.0" />
<circle cx="338.20" cy="212.40" r="1.65" fill="#4ea2df"/>
<circle cx="353.20" cy="219.78" r="1.65" fill="#4ea2df"/>
<circle cx="368.20" cy="221.23" r="1.65" fill="#4ea2df"/>
<circle cx="382.50" cy="230.69" r="1.65" fill="#4ea2df"/>
<circle cx="397.20" cy="235.38" r="1.65" fill="#4ea2df"/>
<circle cx="411.80" cy="235.38" r="1.65" fill="#4ea2df"/>
<circle cx="426.50" cy="240.97" r="1.65" fill="#4ea2df"/>
<circle cx="338.20" cy="212.40" r="1.9" fill="#a3122e"/>
<circle cx="353.20" cy="236.83" r="1.9" fill="#a3122e"/>
<circle cx="368.20" cy="240.41" r="1.9" fill="#a3122e"/>
<circle cx="382.50" cy="243.79" r="1.9" fill="#a3122e"/>
<circle cx="397.20" cy="252.90" r="1.9" fill="#a3122e"/>
<circle cx="411.80" cy="257.59" r="1.9" fill="#a3122e"/>
<circle cx="426.50" cy="255.59" r="1.9" fill="#a3122e"/>
<circle cx="338.20" cy="212.40" r="1.65" fill="#c9c9cc"/>
<circle cx="353.20" cy="236.41" r="1.65" fill="#c9c9cc"/>
<circle cx="368.20" cy="242.07" r="1.65" fill="#c9c9cc"/>
<circle cx="382.50" cy="250.90" r="1.65" fill="#c9c9cc"/>
<circle cx="397.20" cy="262.63" r="1.65" fill="#c9c9cc"/>
<circle cx="411.80" cy="266.70" r="1.65" fill="#c9c9cc"/>
<circle cx="426.50" cy="271.12" r="1.65" fill="#c9c9cc"/>
<text x="78.3" y="323.7" font-size="6.4" text-anchor="start" font-weight="normal" fill="#1a1a1a" >AZD6482 (&#956;M)</text>
<line x1="29.2" y1="328.8" x2="168.5" y2="328.8" stroke="#222" stroke-width="0.9" />
<path d="M167 326.4 L173 328.8 L167 331.2 Z" fill="#111"/>
<line x1="17.3" y1="339.1" x2="17.3" y2="385" stroke="#222" stroke-width="0.9" />
<path d="M14.9 384 L17.3 390 L19.7 384 Z" fill="#111"/>
<text x="0" y="0" font-size="7.3" text-anchor="middle" fill="#1a1a1a" transform="translate(12.6,364.3) rotate(-90) scale(0.8,1)">Idelalisib (&#956;M)</text>
<text x="28.8" y="351.3" font-size="6.0" text-anchor="end" font-weight="normal" fill="#1a1a1a" >0</text>
<text x="28.8" y="361.5" font-size="6.0" text-anchor="end" font-weight="normal" fill="#1a1a1a" >0.5</text>
<text x="28.8" y="374.3" font-size="6.0" text-anchor="end" font-weight="normal" fill="#1a1a1a" >1</text>
<text x="28.8" y="385.5" font-size="6.0" text-anchor="end" font-weight="normal" fill="#1a1a1a" >2</text>
<rect x="32" y="339.2" width="13.3" height="13.3" fill="#5aa75a" stroke="none" stroke-width="0" />
<text x="44.6" y="350.30" font-size="5.8" text-anchor="end" fill="#222" transform="translate(44.6,0) scale(0.72,1) translate(-44.6,0)">0.0</text>
<rect x="45" y="339.2" width="13.3" height="13.3" fill="#c4dcc4" stroke="none" stroke-width="0" />
<text x="57.6" y="350.30" font-size="5.8" text-anchor="end" fill="#222" transform="translate(57.6,0) scale(0.72,1) translate(-57.6,0)">23.9</text>
<rect x="58" y="339.2" width="9.3" height="13.3" fill="#e6e6e2" stroke="none" stroke-width="0" />
<text x="66.6" y="350.30" font-size="5.8" text-anchor="end" fill="#222" transform="translate(66.6,0) scale(0.72,1) translate(-66.6,0)">29.8</text>
<rect x="67" y="339.2" width="9.3" height="13.3" fill="#f2dadd" stroke="none" stroke-width="0" />
<text x="75.6" y="350.30" font-size="5.8" text-anchor="end" fill="#222" transform="translate(75.6,0) scale(0.72,1) translate(-75.6,0)">37.5</text>
<rect x="32" y="352.2" width="13.3" height="12.700000000000035" fill="#62ab62" stroke="none" stroke-width="0" />
<text x="44.6" y="362.70" font-size="5.8" text-anchor="end" fill="#222" transform="translate(44.6,0) scale(0.72,1) translate(-44.6,0)">4.5</text>
<rect x="45" y="352.2" width="13.3" height="12.700000000000035" fill="#f3c6cb" stroke="none" stroke-width="0" />
<text x="57.6" y="362.70" font-size="5.8" text-anchor="end" fill="#222" transform="translate(57.6,0) scale(0.72,1) translate(-57.6,0)">45.4</text>
<rect x="58" y="352.2" width="9.3" height="12.700000000000035" fill="#f2c4c8" stroke="none" stroke-width="0" />
<text x="66.6" y="362.70" font-size="5.8" text-anchor="end" fill="#222" transform="translate(66.6,0) scale(0.72,1) translate(-66.6,0)">45.8</text>
<rect x="67" y="352.2" width="9.3" height="12.700000000000035" fill="#e89499" stroke="none" stroke-width="0" />
<text x="75.6" y="362.70" font-size="5.8" text-anchor="end" fill="#222" transform="translate(75.6,0) scale(0.72,1) translate(-75.6,0)">55.0</text>
<rect x="32" y="364.6" width="13.3" height="13.3" fill="#8fc98f" stroke="none" stroke-width="0" />
<text x="44.6" y="375.70" font-size="5.8" text-anchor="end" fill="#222" transform="translate(44.6,0) scale(0.72,1) translate(-44.6,0)">16.1</text>
<rect x="45" y="364.6" width="13.3" height="13.3" fill="#e8848b" stroke="none" stroke-width="0" />
<text x="57.6" y="375.70" font-size="5.8" text-anchor="end" fill="#222" transform="translate(57.6,0) scale(0.72,1) translate(-57.6,0)">63.0</text>
<rect x="58" y="364.6" width="9.3" height="13.3" fill="#e0545c" stroke="none" stroke-width="0" />
<text x="66.6" y="375.70" font-size="5.8" text-anchor="end" fill="#222" transform="translate(66.6,0) scale(0.72,1) translate(-66.6,0)">72.9</text>
<rect x="67" y="364.6" width="9.3" height="13.3" fill="#d93840" stroke="none" stroke-width="0" />
<text x="75.6" y="375.70" font-size="5.8" text-anchor="end" fill="#222" transform="translate(75.6,0) scale(0.72,1) translate(-75.6,0)">82.3</text>
<rect x="32" y="377.6" width="13.3" height="12.699999999999978" fill="#92cb92" stroke="none" stroke-width="0" />
<text x="44.6" y="388.10" font-size="5.8" text-anchor="end" fill="#222" transform="translate(44.6,0) scale(0.72,1) translate(-44.6,0)">16.5</text>
<rect x="45" y="377.6" width="13.3" height="12.699999999999978" fill="#e26a71" stroke="none" stroke-width="0" />
<text x="57.6" y="388.10" font-size="5.8" text-anchor="end" fill="#222" transform="translate(57.6,0) scale(0.72,1) translate(-57.6,0)">68.3</text>
<rect x="58" y="377.6" width="9.3" height="12.699999999999978" fill="#d9414a" stroke="none" stroke-width="0" />
<text x="66.6" y="388.10" font-size="5.8" text-anchor="end" fill="#222" transform="translate(66.6,0) scale(0.72,1) translate(-66.6,0)">80.6</text>
<rect x="67" y="377.6" width="9.3" height="12.699999999999978" fill="#d22e37" stroke="none" stroke-width="0" />
<text x="75.6" y="388.10" font-size="5.8" text-anchor="end" fill="#222" transform="translate(75.6,0) scale(0.72,1) translate(-75.6,0)">86.7</text>
<text x="40" y="336.4" font-size="6.0" text-anchor="middle" font-weight="normal" fill="#1a1a1a" >0</text>
<text x="52.5" y="336.4" font-size="6.0" text-anchor="middle" font-weight="normal" fill="#1a1a1a" >0.5</text>
<text x="62.3" y="336.4" font-size="6.0" text-anchor="middle" font-weight="normal" fill="#1a1a1a" >1</text>
<text x="70.5" y="336.4" font-size="6.0" text-anchor="middle" font-weight="normal" fill="#1a1a1a" >2</text>
<text x="39.6" y="398.3" font-size="6.6" fill="#1a1a1a" transform="translate(39.6,0) scale(0.9,1) translate(-39.6,0)">HBL1-Ib<tspan font-size="4.09" dy="-2.64">R</tspan></text>
<rect x="80" y="339.2" width="11.3" height="13.3" fill="#4f9e4f" stroke="none" stroke-width="0" />
<text x="90.6" y="350.30" font-size="5.8" text-anchor="end" fill="#222" transform="translate(90.6,0) scale(0.72,1) translate(-90.6,0)">0.0</text>
<rect x="91" y="339.2" width="11.3" height="13.3" fill="#a3d1a3" stroke="none" stroke-width="0" />
<text x="101.6" y="350.30" font-size="5.8" text-anchor="end" fill="#222" transform="translate(101.6,0) scale(0.72,1) translate(-101.6,0)">27.4</text>
<rect x="102" y="339.2" width="11.3" height="13.3" fill="#e2e9e2" stroke="none" stroke-width="0" />
<text x="112.6" y="350.30" font-size="5.8" text-anchor="end" fill="#222" transform="translate(112.6,0) scale(0.72,1) translate(-112.6,0)">41.2</text>
<rect x="113" y="339.2" width="11.3" height="13.3" fill="#f2e4e4" stroke="none" stroke-width="0" />
<text x="123.6" y="350.30" font-size="5.8" text-anchor="end" fill="#222" transform="translate(123.6,0) scale(0.72,1) translate(-123.6,0)">47.9</text>
<rect x="80" y="352.2" width="11.3" height="12.700000000000035" fill="#5aa85a" stroke="none" stroke-width="0" />
<text x="90.6" y="362.70" font-size="5.8" text-anchor="end" fill="#222" transform="translate(90.6,0) scale(0.72,1) translate(-90.6,0)">3.8</text>
<rect x="91" y="352.2" width="11.3" height="12.700000000000035" fill="#cce2cc" stroke="none" stroke-width="0" />
<text x="101.6" y="362.70" font-size="5.8" text-anchor="end" fill="#222" transform="translate(101.6,0) scale(0.72,1) translate(-101.6,0)">38.5</text>
<rect x="102" y="352.2" width="11.3" height="12.700000000000035" fill="#f3d3d8" stroke="none" stroke-width="0" />
<text x="112.6" y="362.70" font-size="5.8" text-anchor="end" fill="#222" transform="translate(112.6,0) scale(0.72,1) translate(-112.6,0)">52.6</text>
<rect x="113" y="352.2" width="11.3" height="12.700000000000035" fill="#eaa3aa" stroke="none" stroke-width="0" />
<text x="123.6" y="362.70" font-size="5.8" text-anchor="end" fill="#222" transform="translate(123.6,0) scale(0.72,1) translate(-123.6,0)">64.8</text>
<rect x="80" y="364.6" width="11.3" height="13.3" fill="#6db56d" stroke="none" stroke-width="0" />
<text x="90.6" y="375.70" font-size="5.8" text-anchor="end" fill="#222" transform="translate(90.6,0) scale(0.72,1) translate(-90.6,0)">13.7</text>
<rect x="91" y="364.6" width="11.3" height="13.3" fill="#f4d4d8" stroke="none" stroke-width="0" />
<text x="101.6" y="375.70" font-size="5.8" text-anchor="end" fill="#222" transform="translate(101.6,0) scale(0.72,1) translate(-101.6,0)">53.4</text>
<rect x="102" y="364.6" width="11.3" height="13.3" fill="#eba2a9" stroke="none" stroke-width="0" />
<text x="112.6" y="375.70" font-size="5.8" text-anchor="end" fill="#222" transform="translate(112.6,0) scale(0.72,1) translate(-112.6,0)">61.8</text>
<rect x="113" y="364.6" width="11.3" height="13.3" fill="#dc4a53" stroke="none" stroke-width="0" />
<text x="123.6" y="375.70" font-size="5.8" text-anchor="end" fill="#222" transform="translate(123.6,0) scale(0.72,1) translate(-123.6,0)">77.1</text>
<rect x="80" y="377.6" width="11.3" height="12.699999999999978" fill="#9ccf9c" stroke="none" stroke-width="0" />
<text x="90.6" y="388.10" font-size="5.8" text-anchor="end" fill="#222" transform="translate(90.6,0) scale(0.72,1) translate(-90.6,0)">20.0</text>
<rect x="91" y="377.6" width="11.3" height="12.699999999999978" fill="#f2ccd1" stroke="none" stroke-width="0" />
<text x="101.6" y="388.10" font-size="5.8" text-anchor="end" fill="#222" transform="translate(101.6,0) scale(0.72,1) translate(-101.6,0)">58.0</text>
<rect x="102" y="377.6" width="11.3" height="12.699999999999978" fill="#e8949b" stroke="none" stroke-width="0" />
<text x="112.6" y="388.10" font-size="5.8" text-anchor="end" fill="#222" transform="translate(112.6,0) scale(0.72,1) translate(-112.6,0)">68.3</text>
<rect x="113" y="377.6" width="11.3" height="12.699999999999978" fill="#d9434c" stroke="none" stroke-width="0" />
<text x="123.6" y="388.10" font-size="5.8" text-anchor="end" fill="#222" transform="translate(123.6,0) scale(0.72,1) translate(-123.6,0)">82.2</text>
<text x="87" y="336.4" font-size="6.0" text-anchor="middle" font-weight="normal" fill="#1a1a1a" >0</text>
<text x="99" y="336.4" font-size="6.0" text-anchor="middle" font-weight="normal" fill="#1a1a1a" >0.5</text>
<text x="109.5" y="336.4" font-size="6.0" text-anchor="middle" font-weight="normal" fill="#1a1a1a" >1</text>
<text x="117.8" y="336.4" font-size="6.0" text-anchor="middle" font-weight="normal" fill="#1a1a1a" >2</text>
<text x="84.4" y="398.3" font-size="6.6" fill="#1a1a1a" transform="translate(84.4,0) scale(0.9,1) translate(-84.4,0)">OCI-LY10-Ib<tspan font-size="4.09" dy="-2.64">R</tspan></text>
<rect x="128" y="339.2" width="11.3" height="13.3" fill="#4f9e4f" stroke="none" stroke-width="0" />
<text x="138.6" y="350.30" font-size="5.8" text-anchor="end" fill="#222" transform="translate(138.6,0) scale(0.72,1) translate(-138.6,0)">0.0</text>
<rect x="139" y="339.2" width="11.49999999999999" height="13.3" fill="#93c993" stroke="none" stroke-width="0" />
<text x="149.79999999999998" y="350.30" font-size="5.8" text-anchor="end" fill="#222" transform="translate(149.79999999999998,0) scale(0.72,1) translate(-149.79999999999998,0)">21.5</text>
<rect x="150.2" y="339.2" width="11.8" height="13.3" fill="#cbe2cb" stroke="none" stroke-width="0" />
<text x="161.29999999999998" y="350.30" font-size="5.8" text-anchor="end" fill="#222" transform="translate(161.29999999999998,0) scale(0.72,1) translate(-161.29999999999998,0)">32.1</text>
<rect x="161.7" y="339.2" width="11.600000000000012" height="13.3" fill="#dbe9db" stroke="none" stroke-width="0" />
<text x="172.6" y="350.30" font-size="5.8" text-anchor="end" fill="#222" transform="translate(172.6,0) scale(0.72,1) translate(-172.6,0)">39.3</text>
<rect x="128" y="352.2" width="11.3" height="12.700000000000035" fill="#5aa85a" stroke="none" stroke-width="0" />
<text x="138.6" y="362.70" font-size="5.8" text-anchor="end" fill="#222" transform="translate(138.6,0) scale(0.72,1) translate(-138.6,0)">3.5</text>
<rect x="139" y="352.2" width="11.49999999999999" height="12.700000000000035" fill="#d2e6d2" stroke="none" stroke-width="0" />
<text x="149.79999999999998" y="362.70" font-size="5.8" text-anchor="end" fill="#222" transform="translate(149.79999999999998,0) scale(0.72,1) translate(-149.79999999999998,0)">36.1</text>
<rect x="150.2" y="352.2" width="11.8" height="12.700000000000035" fill="#e3ebe3" stroke="none" stroke-width="0" />
<text x="161.29999999999998" y="362.70" font-size="5.8" text-anchor="end" fill="#222" transform="translate(161.29999999999998,0) scale(0.72,1) translate(-161.29999999999998,0)">42.5</text>
<rect x="161.7" y="352.2" width="11.600000000000012" height="12.700000000000035" fill="#f3d9dd" stroke="none" stroke-width="0" />
<text x="172.6" y="362.70" font-size="5.8" text-anchor="end" fill="#222" transform="translate(172.6,0) scale(0.72,1) translate(-172.6,0)">53.5</text>
<rect x="128" y="364.6" width="11.3" height="13.3" fill="#62ad62" stroke="none" stroke-width="0" />
<text x="138.6" y="375.70" font-size="5.8" text-anchor="end" fill="#222" transform="translate(138.6,0) scale(0.72,1) translate(-138.6,0)">12.8</text>
<rect x="139" y="364.6" width="11.49999999999999" height="13.3" fill="#f5d6d9" stroke="none" stroke-width="0" />
<text x="149.79999999999998" y="375.70" font-size="5.8" text-anchor="end" fill="#222" transform="translate(149.79999999999998,0) scale(0.72,1) translate(-149.79999999999998,0)">52.4</text>
<rect x="150.2" y="364.6" width="11.8" height="13.3" fill="#eca3a9" stroke="none" stroke-width="0" />
<text x="161.29999999999998" y="375.70" font-size="5.8" text-anchor="end" fill="#222" transform="translate(161.29999999999998,0) scale(0.72,1) translate(-161.29999999999998,0)">62.8</text>
<rect x="161.7" y="364.6" width="11.600000000000012" height="13.3" fill="#e4878e" stroke="none" stroke-width="0" />
<text x="172.6" y="375.70" font-size="5.8" text-anchor="end" fill="#222" transform="translate(172.6,0) scale(0.72,1) translate(-172.6,0)">70.3</text>
<rect x="128" y="377.6" width="11.3" height="12.699999999999978" fill="#9ccf9c" stroke="none" stroke-width="0" />
<text x="138.6" y="388.10" font-size="5.8" text-anchor="end" fill="#222" transform="translate(138.6,0) scale(0.72,1) translate(-138.6,0)">18.7</text>
<rect x="139" y="377.6" width="11.49999999999999" height="12.699999999999978" fill="#f5d6d9" stroke="none" stroke-width="0" />
<text x="149.79999999999998" y="388.10" font-size="5.8" text-anchor="end" fill="#222" transform="translate(149.79999999999998,0) scale(0.72,1) translate(-149.79999999999998,0)">56.7</text>
<rect x="150.2" y="377.6" width="11.8" height="12.699999999999978" fill="#e8939a" stroke="none" stroke-width="0" />
<text x="161.29999999999998" y="388.10" font-size="5.8" text-anchor="end" fill="#222" transform="translate(161.29999999999998,0) scale(0.72,1) translate(-161.29999999999998,0)">68.9</text>
<rect x="161.7" y="377.6" width="11.600000000000012" height="12.699999999999978" fill="#df6169" stroke="none" stroke-width="0" />
<text x="172.6" y="388.10" font-size="5.8" text-anchor="end" fill="#222" transform="translate(172.6,0) scale(0.72,1) translate(-172.6,0)">77.9</text>
<text x="135" y="336.4" font-size="6.0" text-anchor="middle" font-weight="normal" fill="#1a1a1a" >0</text>
<text x="146.6" y="336.4" font-size="6.0" text-anchor="middle" font-weight="normal" fill="#1a1a1a" >0.5</text>
<text x="158" y="336.4" font-size="6.0" text-anchor="middle" font-weight="normal" fill="#1a1a1a" >1</text>
<text x="166" y="336.4" font-size="6.0" text-anchor="middle" font-weight="normal" fill="#1a1a1a" >2</text>
<text x="137.8" y="398.3" font-size="6.6" fill="#1a1a1a" transform="translate(137.8,0) scale(0.9,1) translate(-137.8,0)">TMD8-Ib<tspan font-size="4.09" dy="-2.64">R</tspan></text>
</svg></body></html>
